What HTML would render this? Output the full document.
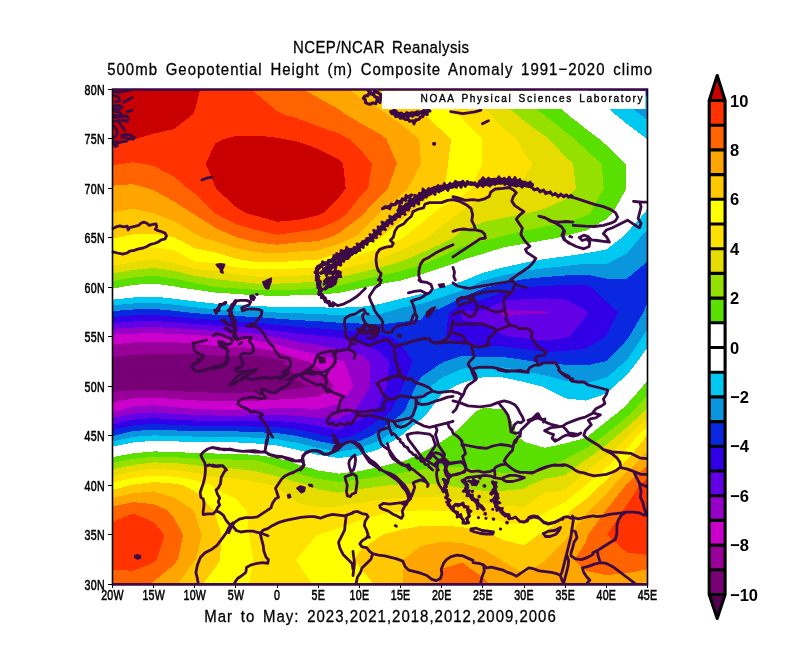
<!DOCTYPE html>
<html><head><meta charset="utf-8"><title>NCEP/NCAR Reanalysis</title>
<style>
html,body{margin:0;padding:0;background:#fff}
svg{display:block}
text{font-family:"Liberation Sans",sans-serif;fill:#000}
.ax{font-size:14.4px;letter-spacing:0.3px;stroke:#000;stroke-width:0.55px}
.cb{font-size:17.4px;font-weight:bold}
.ti{font-size:17.4px;word-spacing:3px;stroke:#000;stroke-width:0.3px}
.wm{font-size:11.8px;word-spacing:2px;stroke:#000;stroke-width:0.4px}
</style></head>
<body>
<svg width="796" height="666" viewBox="0 0 796 666">
<rect width="796" height="666" fill="#fff"/>
<g shape-rendering="crispEdges">
<rect x="112.5" y="89.5" width="535.0" height="494.9" fill="#550055"/>
<path fill="#770077" d="M112.5 89.5L133.1 89.5L153.7 89.5L174.2 89.5L194.8 89.5L215.4 89.5L236 89.5L256.5 89.5L277.1 89.5L297.7 89.5L318.3 89.5L338.8 89.5L359.4 89.5L380 89.5L400.6 89.5L421.2 89.5L441.7 89.5L462.3 89.5L482.9 89.5L503.5 89.5L524 89.5L544.6 89.5L565.2 89.5L585.8 89.5L606.3 89.5L626.9 89.5L647.5 89.5L647.5 114.2L647.5 139L647.5 163.7L647.5 188.5L647.5 213.2L647.5 238L647.5 262.7L647.5 287.5L647.5 312.2L647.5 336.9L647.5 361.7L647.5 386.4L647.5 411.2L647.5 435.9L647.5 460.7L647.5 485.4L647.5 510.2L647.5 534.9L647.5 559.7L647.5 584.4L626.9 584.4L606.3 584.4L585.8 584.4L565.2 584.4L544.6 584.4L524 584.4L503.5 584.4L482.9 584.4L462.3 584.4L441.7 584.4L421.2 584.4L400.6 584.4L380 584.4L359.4 584.4L338.8 584.4L318.3 584.4L297.7 584.4L277.1 584.4L256.5 584.4L236 584.4L215.4 584.4L194.8 584.4L174.2 584.4L153.7 584.4L133.1 584.4L112.5 584.4L112.5 559.7L112.5 534.9L112.5 510.2L112.5 485.4L112.5 460.7L112.5 435.9L112.5 411.2L112.5 386.4L112.5 361.7L112.5 336.9L112.5 312.2L112.5 287.5L112.5 262.7L112.5 238L112.5 213.2L112.5 188.5L112.5 163.7L112.5 139L112.5 114.2Z"/>
<path fill="#990099" d="M112.5 89.5L133.1 89.5L153.7 89.5L174.2 89.5L194.8 89.5L215.4 89.5L236 89.5L256.5 89.5L277.1 89.5L297.7 89.5L318.3 89.5L338.8 89.5L359.4 89.5L380 89.5L400.6 89.5L421.2 89.5L441.7 89.5L462.3 89.5L482.9 89.5L503.5 89.5L524 89.5L544.6 89.5L565.2 89.5L585.8 89.5L606.3 89.5L626.9 89.5L647.5 89.5L647.5 114.2L647.5 139L647.5 163.7L647.5 188.5L647.5 213.2L647.5 238L647.5 262.7L647.5 287.5L647.5 312.2L647.5 336.9L647.5 361.7L647.5 386.4L647.5 411.2L647.5 435.9L647.5 460.7L647.5 485.4L647.5 510.2L647.5 534.9L647.5 559.7L647.5 584.4L626.9 584.4L606.3 584.4L585.8 584.4L565.2 584.4L544.6 584.4L524 584.4L503.5 584.4L482.9 584.4L462.3 584.4L441.7 584.4L421.2 584.4L400.6 584.4L380 584.4L359.4 584.4L338.8 584.4L318.3 584.4L297.7 584.4L277.1 584.4L256.5 584.4L236 584.4L215.4 584.4L194.8 584.4L174.2 584.4L153.7 584.4L133.1 584.4L112.5 584.4L112.5 559.7L112.5 534.9L112.5 510.2L112.5 485.4L112.5 460.7L112.5 435.9L112.5 411.2L112.5 391.9L133.1 390.3L153.7 389.9L174.2 391L194.8 392L215.4 392.7L236 392.6L256.5 392.4L277.1 391.2L297.7 388.7L308.3 386.4L297.7 380L284.1 361.7L277.1 359.2L256.5 355.4L236 356.1L215.4 355.5L194.8 354.1L174.2 353.5L153.7 353.6L133.1 354.8L112.5 357.2L112.5 336.9L112.5 312.2L112.5 287.5L112.5 262.7L112.5 238L112.5 213.2L112.5 188.5L112.5 163.7L112.5 139L112.5 114.2Z"/>
<path fill="#cc00cc" d="M112.5 89.5L133.1 89.5L153.7 89.5L174.2 89.5L194.8 89.5L215.4 89.5L236 89.5L256.5 89.5L277.1 89.5L297.7 89.5L318.3 89.5L338.8 89.5L359.4 89.5L380 89.5L400.6 89.5L421.2 89.5L441.7 89.5L462.3 89.5L482.9 89.5L503.5 89.5L524 89.5L544.6 89.5L565.2 89.5L585.8 89.5L606.3 89.5L626.9 89.5L647.5 89.5L647.5 114.2L647.5 139L647.5 163.7L647.5 188.5L647.5 213.2L647.5 238L647.5 262.7L647.5 287.5L647.5 312.2L647.5 336.9L647.5 361.7L647.5 386.4L647.5 411.2L647.5 435.9L647.5 460.7L647.5 485.4L647.5 510.2L647.5 534.9L647.5 559.7L647.5 584.4L626.9 584.4L606.3 584.4L585.8 584.4L565.2 584.4L544.6 584.4L524 584.4L503.5 584.4L482.9 584.4L462.3 584.4L441.7 584.4L421.2 584.4L400.6 584.4L380 584.4L359.4 584.4L338.8 584.4L318.3 584.4L297.7 584.4L277.1 584.4L256.5 584.4L236 584.4L215.4 584.4L194.8 584.4L174.2 584.4L153.7 584.4L133.1 584.4L112.5 584.4L112.5 559.7L112.5 534.9L112.5 510.2L112.5 485.4L112.5 460.7L112.5 435.9L112.5 411.2L112.5 402.3L133.1 398.5L153.7 397.5L174.2 399L194.8 400.4L215.4 401.2L236 401.2L256.5 400.7L277.1 399.6L297.7 398.4L318.3 396.3L334.7 386.4L318.3 367.8L309.2 361.7L297.7 358.9L277.1 351.8L256.5 347.9L236 347.2L215.4 346L194.8 343.8L174.2 342.1L153.7 341.5L133.1 342.4L112.5 344.7L112.5 336.9L112.5 312.2L112.5 287.5L112.5 262.7L112.5 238L112.5 213.2L112.5 188.5L112.5 163.7L112.5 139L112.5 114.2Z"/>
<path fill="#9600c8" d="M112.5 89.5L133.1 89.5L153.7 89.5L174.2 89.5L194.8 89.5L215.4 89.5L236 89.5L256.5 89.5L277.1 89.5L297.7 89.5L318.3 89.5L338.8 89.5L359.4 89.5L380 89.5L400.6 89.5L421.2 89.5L441.7 89.5L462.3 89.5L482.9 89.5L503.5 89.5L524 89.5L544.6 89.5L565.2 89.5L585.8 89.5L606.3 89.5L626.9 89.5L647.5 89.5L647.5 114.2L647.5 139L647.5 163.7L647.5 188.5L647.5 213.2L647.5 238L647.5 262.7L647.5 287.5L647.5 312.2L647.5 336.9L647.5 361.7L647.5 386.4L647.5 411.2L647.5 435.9L647.5 460.7L647.5 485.4L647.5 510.2L647.5 534.9L647.5 559.7L647.5 584.4L626.9 584.4L606.3 584.4L585.8 584.4L565.2 584.4L544.6 584.4L524 584.4L503.5 584.4L482.9 584.4L462.3 584.4L441.7 584.4L421.2 584.4L400.6 584.4L380 584.4L359.4 584.4L338.8 584.4L318.3 584.4L297.7 584.4L277.1 584.4L256.5 584.4L236 584.4L215.4 584.4L194.8 584.4L174.2 584.4L153.7 584.4L133.1 584.4L112.5 584.4L112.5 559.7L112.5 534.9L112.5 510.2L112.5 485.4L112.5 460.7L112.5 435.9L112.5 412.1L116.8 411.2L133.1 406.6L153.7 405.2L174.2 407.1L194.8 408.9L215.4 409.7L236 409.7L256.5 409.1L277.1 408L297.7 408.2L318.3 408.9L338.8 404.3L353.3 386.4L344.3 361.7L338.8 360L318.3 354.5L297.7 350.2L277.1 344.5L256.5 340.3L236 338.2L220.7 336.9L215.4 336.7L194.8 335.1L174.2 333.8L153.7 333.2L133.1 333.6L112.5 334.7L112.5 312.2L112.5 287.5L112.5 262.7L112.5 238L112.5 213.2L112.5 188.5L112.5 163.7L112.5 139L112.5 114.2Z"/>
<path fill="#6400e6" d="M112.5 89.5L133.1 89.5L153.7 89.5L174.2 89.5L194.8 89.5L215.4 89.5L236 89.5L256.5 89.5L277.1 89.5L297.7 89.5L318.3 89.5L338.8 89.5L359.4 89.5L380 89.5L400.6 89.5L421.2 89.5L441.7 89.5L462.3 89.5L482.9 89.5L503.5 89.5L524 89.5L544.6 89.5L565.2 89.5L585.8 89.5L606.3 89.5L626.9 89.5L647.5 89.5L647.5 114.2L647.5 139L647.5 163.7L647.5 188.5L647.5 213.2L647.5 238L647.5 262.7L647.5 287.5L647.5 312.2L647.5 336.9L647.5 361.7L647.5 386.4L647.5 411.2L647.5 435.9L647.5 460.7L647.5 485.4L647.5 510.2L647.5 534.9L647.5 559.7L647.5 584.4L626.9 584.4L606.3 584.4L585.8 584.4L565.2 584.4L544.6 584.4L524 584.4L503.5 584.4L482.9 584.4L462.3 584.4L441.7 584.4L421.2 584.4L400.6 584.4L380 584.4L359.4 584.4L338.8 584.4L318.3 584.4L297.7 584.4L277.1 584.4L256.5 584.4L236 584.4L215.4 584.4L194.8 584.4L174.2 584.4L153.7 584.4L133.1 584.4L112.5 584.4L112.5 559.7L112.5 534.9L112.5 510.2L112.5 485.4L112.5 460.7L112.5 435.9L112.5 418.1L133.1 413.8L153.7 412.4L174.2 413.9L194.8 415.1L215.4 415.5L236 415.6L256.5 415.4L277.1 414.9L297.7 415.8L318.3 417.8L338.8 418.8L353.6 411.2L359.4 404L370.1 386.4L370 361.7L359.4 354L338.8 349L318.3 344.9L297.7 341.6L277.1 337.2L275.9 336.9L256.5 333.8L236 332.3L215.4 331.2L194.8 329.6L174.2 328.1L153.7 327.1L133.1 327.6L112.5 328.8L112.5 312.2L112.5 287.5L112.5 262.7L112.5 238L112.5 213.2L112.5 188.5L112.5 163.7L112.5 139L112.5 114.2ZM503.5 310L498.9 312.2L503.5 316.7L524 314.1L544.6 314.3L549.3 312.2L544.6 311.4L524 311.3Z"/>
<path fill="#3200e6" d="M112.5 89.5L133.1 89.5L153.7 89.5L174.2 89.5L194.8 89.5L215.4 89.5L236 89.5L256.5 89.5L277.1 89.5L297.7 89.5L318.3 89.5L338.8 89.5L359.4 89.5L380 89.5L400.6 89.5L421.2 89.5L441.7 89.5L462.3 89.5L482.9 89.5L503.5 89.5L524 89.5L544.6 89.5L565.2 89.5L585.8 89.5L606.3 89.5L626.9 89.5L647.5 89.5L647.5 114.2L647.5 139L647.5 163.7L647.5 188.5L647.5 213.2L647.5 238L647.5 262.7L647.5 287.5L647.5 312.2L647.5 336.9L647.5 361.7L647.5 386.4L647.5 411.2L647.5 435.9L647.5 460.7L647.5 485.4L647.5 510.2L647.5 534.9L647.5 559.7L647.5 584.4L626.9 584.4L606.3 584.4L585.8 584.4L565.2 584.4L544.6 584.4L524 584.4L503.5 584.4L482.9 584.4L462.3 584.4L441.7 584.4L421.2 584.4L400.6 584.4L380 584.4L359.4 584.4L338.8 584.4L318.3 584.4L297.7 584.4L277.1 584.4L256.5 584.4L236 584.4L215.4 584.4L194.8 584.4L174.2 584.4L153.7 584.4L133.1 584.4L112.5 584.4L112.5 559.7L112.5 534.9L112.5 510.2L112.5 485.4L112.5 460.7L112.5 435.9L112.5 424.2L133.1 419.6L153.7 418.2L174.2 419.4L194.8 420.5L215.4 420.8L236 420.8L256.5 421L277.1 421L297.7 422.6L318.3 425.9L338.8 429.9L359.4 420.2L375.1 411.2L380 402.1L386.5 386.4L389.4 361.7L380 352.5L359.4 340.5L338.8 338L331.8 336.9L318.3 335.7L297.7 333.8L277.1 331L256.5 328.2L236 326.9L215.4 325.7L194.8 324.1L174.2 322.3L153.7 321L133.1 321.5L112.5 322.9L112.5 312.2L112.5 287.5L112.5 262.7L112.5 238L112.5 213.2L112.5 188.5L112.5 163.7L112.5 139L112.5 114.2ZM462.3 311.2L460.6 312.2L462.3 320L482.9 323L503.5 335.1L512.8 336.9L524 338.3L544.6 340.7L565.2 337.9L569.2 337L585.8 316.8L587.6 312.2L585.8 310.3L565.2 299.4L544.6 298.4L524 299.2L503.5 301L482.9 310.7Z"/>
<path fill="#0a28e0" d="M112.5 89.5L133.1 89.5L153.7 89.5L174.2 89.5L194.8 89.5L215.4 89.5L236 89.5L256.5 89.5L277.1 89.5L297.7 89.5L318.3 89.5L338.8 89.5L359.4 89.5L380 89.5L400.6 89.5L421.2 89.5L441.7 89.5L462.3 89.5L482.9 89.5L503.5 89.5L524 89.5L544.6 89.5L565.2 89.5L585.8 89.5L606.3 89.5L626.9 89.5L647.5 89.5L647.5 114.2L647.5 139L647.5 163.7L647.5 188.5L647.5 213.2L647.5 238L647.5 262.7L647.5 287.5L647.5 312.2L647.5 336.9L647.5 361.7L647.5 386.4L647.5 411.2L647.5 435.9L647.5 460.7L647.5 485.4L647.5 510.2L647.5 534.9L647.5 559.7L647.5 584.4L626.9 584.4L606.3 584.4L585.8 584.4L565.2 584.4L544.6 584.4L524 584.4L503.5 584.4L482.9 584.4L462.3 584.4L441.7 584.4L421.2 584.4L400.6 584.4L380 584.4L359.4 584.4L338.8 584.4L318.3 584.4L297.7 584.4L277.1 584.4L256.5 584.4L236 584.4L215.4 584.4L194.8 584.4L174.2 584.4L153.7 584.4L133.1 584.4L112.5 584.4L112.5 559.7L112.5 534.9L112.5 510.2L112.5 485.4L112.5 460.7L112.5 435.9L112.5 430.2L133.1 425.4L153.7 423.9L174.2 424.9L194.8 425.8L215.4 426.1L236 426.1L256.5 426.6L277.1 427L297.7 429.4L318.3 433.9L325.5 435.9L338.8 438.9L351.6 435.9L359.4 432.5L380 419.6L391.2 411.2L400.6 391.6L402.8 386.4L412.7 361.7L400.6 343.7L391.8 336.9L380 334.6L359.4 331.2L338.8 330.1L318.3 328.4L297.7 327L277.1 324.9L256.5 322.6L236 321.5L215.4 320.2L194.8 318.6L174.2 316.6L153.7 315L133.1 315.5L112.5 317L112.5 312.2L112.5 287.5L112.5 262.7L112.5 238L112.5 213.2L112.5 188.5L112.5 163.7L112.5 139L112.5 114.2ZM524 287.2L522.9 287.5L503.5 292L482.9 299.6L462.3 304.3L448.7 312.2L445.8 336.9L462.3 344.6L482.9 345.9L503.5 346.4L524 349.1L544.6 352.1L565.2 351L585.8 348.7L605.4 336.9L606.3 334.6L618.4 312.2L606.3 301.5L592.5 287.5L585.8 285.3L565.2 284.9L544.6 286Z"/>
<path fill="#0a96dc" d="M112.5 89.5L133.1 89.5L153.7 89.5L174.2 89.5L194.8 89.5L215.4 89.5L236 89.5L256.5 89.5L277.1 89.5L297.7 89.5L318.3 89.5L338.8 89.5L359.4 89.5L380 89.5L400.6 89.5L421.2 89.5L441.7 89.5L462.3 89.5L482.9 89.5L503.5 89.5L524 89.5L544.6 89.5L565.2 89.5L585.8 89.5L606.3 89.5L626.9 89.5L639.4 89.5L647.5 96.4L647.5 114.2L647.5 139L647.5 163.7L647.5 188.5L647.5 213.2L647.5 238L647.5 261L646 262.7L626.9 278.5L606.3 278.6L585.8 274.5L565.2 275.5L544.6 277.1L524 279.1L503.5 283.5L486.4 287.5L482.9 288.6L462.3 297.3L441.7 307.9L426.8 312.2L421.2 319.5L400.6 322L380 324.4L359.4 323.5L338.8 322.7L318.3 321.2L297.7 320.1L277.1 318.7L256.5 317L236 316.1L215.4 314.8L194.8 313.1L186.5 312.2L174.2 310.8L153.7 308.9L133.1 309.5L112.5 311.1L112.5 287.5L112.5 262.7L112.5 238L112.5 213.2L112.5 188.5L112.5 163.7L112.5 139L112.5 114.2ZM643.5 312.2L647.5 302.7L647.5 312.2L647.5 336.9L647.5 361.7L647.5 386.4L647.5 411.2L647.5 435.9L647.5 460.7L647.5 485.4L647.5 510.2L647.5 534.9L647.5 559.7L647.5 584.4L626.9 584.4L606.3 584.4L585.8 584.4L565.2 584.4L544.6 584.4L524 584.4L503.5 584.4L482.9 584.4L462.3 584.4L441.7 584.4L421.2 584.4L400.6 584.4L380 584.4L359.4 584.4L338.8 584.4L318.3 584.4L297.7 584.4L277.1 584.4L256.5 584.4L236 584.4L215.4 584.4L194.8 584.4L174.2 584.4L153.7 584.4L133.1 584.4L112.5 584.4L112.5 559.7L112.5 534.9L112.5 510.2L112.5 485.4L112.5 460.7L112.5 436.2L113.7 435.9L133.1 431.1L153.7 429.6L174.2 430.4L194.8 431.2L215.4 431.4L236 431.4L256.5 432.2L277.1 433L296.6 435.9L297.7 436.1L318.3 441.1L338.8 445.3L359.4 441.1L371.5 435.9L380 430.4L400.6 414.9L404.5 411.2L415.6 386.4L421.2 376.8L441.7 363L444.9 361.7L462.3 355.9L482.9 356.8L503.5 357L524 360L534.2 361.7L544.6 363.6L565.2 364.6L585.8 365.5L604 361.7L606.3 361L626.9 340.1L629 336.9Z"/>
<path fill="#00c8f0" d="M112.5 89.5L133.1 89.5L153.7 89.5L174.2 89.5L194.8 89.5L215.4 89.5L236 89.5L256.5 89.5L277.1 89.5L297.7 89.5L318.3 89.5L338.8 89.5L359.4 89.5L380 89.5L400.6 89.5L421.2 89.5L441.7 89.5L462.3 89.5L482.9 89.5L503.5 89.5L524 89.5L544.6 89.5L565.2 89.5L585.8 89.5L606.3 89.5L611.8 89.5L626.9 103.2L639.6 114.2L647.5 120L647.5 139L647.5 163.7L647.5 188.5L647.5 213.2L647.5 229.7L639.9 238L626.9 253.4L609.3 262.7L606.3 263.8L585.8 263.6L565.2 266.2L544.6 268.1L524 271L503.5 275.4L482.9 280.5L468.9 287.5L462.3 290.4L441.7 297.3L421.2 303.9L400.6 308.1L386.1 312.2L380 314.2L359.4 315.7L338.8 315.2L318.3 314L297.7 313.3L277.1 312.6L270.8 312.2L256.5 311.4L236 310.6L215.4 309.3L194.8 307.3L174.2 304.7L153.7 302.7L133.1 303.5L112.5 305.4L112.5 287.5L112.5 262.7L112.5 238L112.5 213.2L112.5 188.5L112.5 163.7L112.5 139L112.5 114.2ZM642.5 336.9L647.5 329.2L647.5 336.9L647.5 361.7L647.5 386.4L647.5 411.2L647.5 435.9L647.5 460.7L647.5 485.4L647.5 510.2L647.5 534.9L647.5 559.7L647.5 584.4L626.9 584.4L606.3 584.4L585.8 584.4L565.2 584.4L544.6 584.4L524 584.4L503.5 584.4L482.9 584.4L462.3 584.4L441.7 584.4L421.2 584.4L400.6 584.4L380 584.4L359.4 584.4L338.8 584.4L318.3 584.4L297.7 584.4L277.1 584.4L256.5 584.4L236 584.4L215.4 584.4L194.8 584.4L174.2 584.4L153.7 584.4L133.1 584.4L112.5 584.4L112.5 559.7L112.5 534.9L112.5 510.2L112.5 485.4L112.5 460.7L112.5 441.5L133.1 436.9L146.5 435.9L153.7 435.4L173.1 435.9L174.2 436L194.8 436.6L215.4 436.7L236 436.7L256.5 437.8L277.1 439.2L297.7 442.9L318.3 448L338.8 451.7L359.4 448.3L380 440.2L386.9 435.9L400.6 425.5L416 411.2L421.2 400.2L431.1 386.4L441.7 377.7L462.3 368.6L482.9 367.2L503.5 367.4L524 371L544.6 375.4L565.2 380.7L585.8 383.4L606.3 377.6L625.2 361.7L626.9 360Z"/>
<path fill="#ffffff" d="M112.5 89.5L133.1 89.5L153.7 89.5L174.2 89.5L194.8 89.5L215.4 89.5L236 89.5L256.5 89.5L277.1 89.5L297.7 89.5L318.3 89.5L338.8 89.5L359.4 89.5L380 89.5L400.6 89.5L421.2 89.5L441.7 89.5L462.3 89.5L482.9 89.5L503.5 89.5L524 89.5L544.6 89.5L565.2 89.5L585.8 89.5L587 89.5L606.3 106.2L615 114.2L626.9 123.9L646.9 139L647.5 139.6L647.5 163.7L647.5 188.5L647.5 208.2L644.5 213.2L626.9 232.6L621.2 238L606.3 249.6L585.8 253.3L565.2 256.4L544.6 259L525.2 262.7L524 262.9L503.5 267.4L482.9 272.8L462.3 281.4L441.7 286.8L439.9 287.5L421.2 294.1L400.6 298.9L380 304L359.4 307.1L338.8 307.7L318.3 307.4L297.7 307.3L277.1 306.9L256.5 306.1L236 305L215.4 303.7L194.8 301.4L174.2 298.7L153.7 296.6L133.1 297.5L112.5 299.7L112.5 287.5L112.5 262.7L112.5 238L112.5 213.2L112.5 188.5L112.5 163.7L112.5 139L112.5 114.2ZM637.3 361.7L647.5 347.1L647.5 361.7L647.5 386.4L647.5 411.2L647.5 435.9L647.5 460.7L647.5 485.4L647.5 510.2L647.5 534.9L647.5 559.7L647.5 584.4L626.9 584.4L606.3 584.4L585.8 584.4L565.2 584.4L544.6 584.4L524 584.4L503.5 584.4L482.9 584.4L462.3 584.4L441.7 584.4L421.2 584.4L400.6 584.4L380 584.4L359.4 584.4L338.8 584.4L318.3 584.4L297.7 584.4L277.1 584.4L256.5 584.4L236 584.4L215.4 584.4L194.8 584.4L174.2 584.4L153.7 584.4L133.1 584.4L112.5 584.4L112.5 559.7L112.5 534.9L112.5 510.2L112.5 485.4L112.5 460.7L112.5 446.7L133.1 442.4L153.7 440.8L174.2 441.3L194.8 442.1L215.4 442.3L236 442.4L256.5 443.5L277.1 445.5L297.7 449.8L318.3 455L338.8 458.1L359.4 455.4L380 448.8L400.6 436.2L400.9 435.9L421.2 419.1L428.9 411.2L441.7 394.1L454.4 386.4L462.3 382.9L482.9 377.2L503.5 377.5L524 382L541.7 386.4L544.6 387.6L565.2 398.3L585.8 400.6L606.3 393.5L613.9 386.4L626.9 374.9Z"/>
<path fill="#5ae000" d="M112.5 89.5L133.1 89.5L153.7 89.5L174.2 89.5L194.8 89.5L215.4 89.5L236 89.5L256.5 89.5L277.1 89.5L297.7 89.5L318.3 89.5L338.8 89.5L359.4 89.5L380 89.5L400.6 89.5L421.2 89.5L441.7 89.5L462.3 89.5L482.9 89.5L503.5 89.5L524 89.5L534.7 89.5L544.6 96.4L565.2 112.3L567.3 114.2L585.8 128.8L599.4 139L606.3 145.2L625.7 163.7L626.3 188.5L612.6 213.2L606.3 219.2L585.8 230.6L565.2 235.9L556.6 238L544.6 240.1L524 243.7L503.5 247.4L482.9 253.8L462.3 259.9L456.3 262.7L441.7 267.6L421.2 274.6L400.6 280.5L380 284.2L364 287.5L359.4 288.5L338.8 293L318.3 294.6L297.7 295.4L277.1 295.7L256.5 295.4L236 293.9L215.4 292.6L194.8 289.6L180.2 287.5L174.2 286.3L153.7 283.5L133.1 284.9L119.1 287.5L112.5 288.4L112.5 287.5L112.5 262.7L112.5 238L112.5 213.2L112.5 188.5L112.5 163.7L112.5 139L112.5 114.2ZM642.8 386.4L647.5 380.4L647.5 386.4L647.5 411.2L647.5 435.9L647.5 460.7L647.5 485.4L647.5 510.2L647.5 534.9L647.5 559.7L647.5 584.4L626.9 584.4L606.3 584.4L585.8 584.4L565.2 584.4L544.6 584.4L524 584.4L503.5 584.4L482.9 584.4L462.3 584.4L441.7 584.4L421.2 584.4L400.6 584.4L380 584.4L359.4 584.4L338.8 584.4L318.3 584.4L297.7 584.4L277.1 584.4L256.5 584.4L236 584.4L215.4 584.4L194.8 584.4L174.2 584.4L153.7 584.4L133.1 584.4L112.5 584.4L112.5 559.7L112.5 534.9L112.5 510.2L112.5 485.4L112.5 460.7L112.5 457.2L133.1 453.3L153.7 451.4L174.2 451.9L194.8 453.1L215.4 453.5L236 453.9L256.5 454.9L277.1 458.2L287.4 460.7L297.7 464.3L318.3 470.5L338.8 473.6L359.4 471.2L380 466.7L400.6 461.8L405.1 460.7L421.2 453.2L441.7 441.7L450.4 435.9L462.3 425.5L476.7 411.2L482.9 407.9L503.5 409.3L507.3 411.2L517.7 435.9L524 441.8L544.6 447.8L565.2 443.5L585.8 437.8L588.4 435.9L606.3 421.5L619.7 411.2L626.9 404.4Z"/>
<path fill="#96e000" d="M112.5 89.5L133.1 89.5L153.7 89.5L174.2 89.5L194.8 89.5L215.4 89.5L236 89.5L256.5 89.5L277.1 89.5L297.7 89.5L318.3 89.5L338.8 89.5L359.4 89.5L380 89.5L400.6 89.5L421.2 89.5L441.7 89.5L462.3 89.5L482.9 89.5L503.5 89.5L509.9 89.5L524 100.8L543.3 114.2L544.6 115.3L565.2 131.5L574.7 139L585.8 149.7L601.7 163.7L603.7 188.5L590.3 213.2L585.8 215.8L565.2 222.8L544.6 226.6L524 231L503.5 235.7L496.4 238L482.9 241L462.3 246.6L441.7 256.4L427.6 262.7L421.2 264.9L400.6 271.1L380 275.9L359.4 280.5L338.8 285.6L325 287.5L318.3 288.2L297.7 289.5L277.1 290L256.5 290L236 288.3L221.7 287.5L215.4 286.9L194.8 283L174.2 278.5L153.7 275.7L133.1 277.4L112.5 281.1L112.5 262.7L112.5 238L112.5 213.2L112.5 188.5L112.5 163.7L112.5 139L112.5 114.2ZM633.3 411.2L647.5 394.9L647.5 411.2L647.5 435.9L647.5 460.7L647.5 485.4L647.5 510.2L647.5 534.9L647.5 559.7L647.5 584.4L626.9 584.4L606.3 584.4L585.8 584.4L565.2 584.4L544.6 584.4L524 584.4L503.5 584.4L482.9 584.4L462.3 584.4L441.7 584.4L421.2 584.4L400.6 584.4L380 584.4L359.4 584.4L338.8 584.4L318.3 584.4L297.7 584.4L277.1 584.4L256.5 584.4L236 584.4L215.4 584.4L194.8 584.4L174.2 584.4L153.7 584.4L133.1 584.4L112.5 584.4L112.5 559.7L112.5 534.9L112.5 510.2L112.5 485.4L112.5 462.9L122.8 460.7L133.1 458.8L153.7 456.7L174.2 457.2L194.8 458.5L215.4 459.2L236 459.6L256.5 460.5L257.4 460.7L277.1 466.5L297.7 473.4L318.3 478.9L338.8 481.8L359.4 479.4L380 476.4L400.6 473L421.2 469.5L441.7 466.4L462.3 466.8L482.9 470.4L503.5 472.9L524 472.8L544.6 468.2L562.6 460.7L565.2 459.1L585.8 448.8L603.8 435.9L606.3 433.9L626.9 417Z"/>
<path fill="#e6dc00" d="M112.5 89.5L133.1 89.5L153.7 89.5L174.2 89.5L194.8 89.5L215.4 89.5L236 89.5L256.5 89.5L277.1 89.5L297.7 89.5L318.3 89.5L338.8 89.5L359.4 89.5L380 89.5L400.6 89.5L421.2 89.5L441.7 89.5L462.3 89.5L482.9 89.5L488.1 89.5L503.5 104.4L516.4 114.2L524 120.9L544.6 135.8L548.8 139L565.2 156.5L573.1 163.7L575.9 188.5L565.2 199.4L544.6 208.8L528.8 213.2L524 213.7L503.5 217.8L482.9 222.2L462.3 230.8L453.1 238L441.7 243.6L421.2 253.1L400.6 261.6L397.6 262.7L380 267.6L359.4 272.7L338.8 277.8L318.3 281.3L297.7 282.8L277.1 283.6L256.5 283.7L236 281.4L215.4 278.9L194.8 276L174.2 270.8L153.7 268L133.1 269.9L112.5 273.5L112.5 262.7L112.5 238L112.5 213.2L112.5 188.5L112.5 163.7L112.5 139L112.5 114.2ZM644.8 411.2L647.5 408.1L647.5 411.2L647.5 435.9L647.5 460.7L647.5 485.4L647.5 510.2L647.5 534.9L647.5 559.7L647.5 584.4L626.9 584.4L606.3 584.4L585.8 584.4L565.2 584.4L544.6 584.4L524 584.4L503.5 584.4L482.9 584.4L462.3 584.4L441.7 584.4L421.2 584.4L400.6 584.4L380 584.4L359.4 584.4L338.8 584.4L318.3 584.4L297.7 584.4L277.1 584.4L256.5 584.4L236 584.4L215.4 584.4L194.8 584.4L174.2 584.4L153.7 584.4L133.1 584.4L112.5 584.4L112.5 559.7L112.5 534.9L112.5 510.2L112.5 485.4L112.5 469.4L133.1 465L153.7 462.4L174.2 463L194.8 465.3L215.4 467.7L236 468.7L256.5 471.4L277.1 476.3L297.7 482.5L309.6 485.4L318.3 489.5L338.8 492.8L359.4 489.2L380 486.4L388.8 485.4L400.6 484.3L421.2 483.4L441.7 483.8L447.7 485.4L462.3 488.2L482.9 490.6L503.5 490.6L524 489.1L529.2 485.4L544.6 478.8L565.2 475.2L584 460.7L585.8 459.8L606.3 445L616.8 435.9L626.9 427.4Z"/>
<path fill="#ffe100" d="M112.5 89.5L133.1 89.5L153.7 89.5L174.2 89.5L194.8 89.5L215.4 89.5L236 89.5L256.5 89.5L277.1 89.5L297.7 89.5L318.3 89.5L338.8 89.5L359.4 89.5L380 89.5L400.6 89.5L421.2 89.5L441.7 89.5L462.1 89.5L462.3 89.7L482.9 107.2L490.4 114.2L503.5 128.1L516.6 139L524 152.3L532.2 163.7L524 178.1L503.5 182.6L496.6 188.5L482.9 197.2L462.3 211.3L458.7 213.2L441.7 226.1L426.8 238L421.2 240.6L400.6 250.3L380 258.5L367.5 262.7L359.4 264.8L338.8 269.9L318.3 274.3L297.7 275.6L277.1 276.5L256.5 276.5L236 274.3L215.4 270.9L194.8 269.1L174.2 263L172.1 262.7L153.7 258.9L133.1 262L130.7 262.7L112.5 265.9L112.5 262.7L112.5 238L112.5 213.2L112.5 188.5L112.5 163.7L112.5 139L112.5 114.2ZM628.6 435.9L647.5 417.8L647.5 435.9L647.5 460.7L647.5 485.4L647.5 510.2L647.5 534.9L647.5 559.7L647.5 584.4L626.9 584.4L606.3 584.4L585.8 584.4L565.2 584.4L544.6 584.4L524 584.4L503.5 584.4L482.9 584.4L462.3 584.4L441.7 584.4L421.2 584.4L400.6 584.4L380 584.4L359.4 584.4L338.8 584.4L318.3 584.4L297.7 584.4L277.1 584.4L256.5 584.4L236 584.4L215.4 584.4L194.8 584.4L174.2 584.4L153.7 584.4L133.1 584.4L112.5 584.4L112.5 559.7L112.5 534.9L112.5 510.2L112.5 485.4L112.5 476L133.1 471.5L153.7 468.9L174.2 469.9L194.8 472.7L215.4 477.3L236 478.5L256.5 482.3L273.6 485.4L277.1 487.5L297.7 503.1L318.3 507.5L338.8 506.4L359.4 503.1L380 499.7L400.6 497.6L421.2 496.8L441.7 497.5L462.3 500.2L482.9 503L503.5 505.7L524 506.8L544.6 493L565.2 490L570.7 485.4L585.8 472.4L599.6 460.7L606.3 455.8L626.9 438Z"/>
<path fill="#ffff00" d="M112.5 89.5L133.1 89.5L153.7 89.5L174.2 89.5L194.8 89.5L215.4 89.5L236 89.5L256.5 89.5L277.1 89.5L297.7 89.5L318.3 89.5L338.8 89.5L359.4 89.5L380 89.5L400.6 89.5L421.2 89.5L431.8 89.5L441.7 99.2L457.8 114.2L462.3 118.4L482.5 139L482.4 163.7L471 188.5L462.3 196.2L441.7 206.7L433.3 213.2L421.2 223.6L402.9 238L400.6 239.1L380 248.2L359.4 255.2L338.8 262L336.8 262.7L318.3 267.4L297.7 268.4L277.1 269.5L256.5 269.4L236 267.3L215.4 262.9L210.1 262.7L194.8 261.6L174.2 250.3L153.7 247.2L133.1 249.1L112.5 253.7L112.5 238L112.5 213.2L112.5 188.5L112.5 163.7L112.5 139L112.5 114.2ZM637.6 435.9L647.5 426.4L647.5 435.9L647.5 460.7L647.5 485.4L647.5 510.2L647.5 534.9L647.5 559.7L647.5 584.4L626.9 584.4L606.3 584.4L585.8 584.4L565.2 584.4L544.6 584.4L524 584.4L503.5 584.4L482.9 584.4L462.3 584.4L441.7 584.4L421.2 584.4L400.6 584.4L380 584.4L359.4 584.4L338.8 584.4L318.3 584.4L312.1 584.4L297.7 562.3L295.4 559.7L297.7 557.7L317 534.9L318.3 534.6L338.8 528.3L359.4 520.4L380 514.5L400.6 511.5L421.2 510.2L441.7 510.9L462.3 512.7L482.9 516.6L503.5 522.1L524 524.5L544.6 513L548.5 510.2L565.2 502.2L585.5 485.4L585.8 485.2L606.3 467.7L613.4 460.7L626.9 449ZM112.5 485.4L112.5 482.5L133.1 478L153.7 475.4L174.2 476.7L194.8 480.2L211.6 485.4L215.4 488.9L236 498.7L246.5 510.2L249.1 534.9L253.4 559.7L248.8 584.4L236 584.4L215.4 584.4L194.8 584.4L174.2 584.4L153.7 584.4L133.1 584.4L112.5 584.4L112.5 559.7L112.5 534.9L112.5 510.2Z"/>
<path fill="#ffc800" d="M112.5 89.5L133.1 89.5L153.7 89.5L174.2 89.5L194.8 89.5L215.4 89.5L236 89.5L256.5 89.5L277.1 89.5L297.7 89.5L318.3 89.5L338.8 89.5L359.4 89.5L380 89.5L394.1 89.5L400.6 94.1L421.2 110.7L424.8 114.2L441.7 130.6L451.1 139L448.1 163.7L444.7 188.5L441.7 189.9L421.2 202.9L410.6 213.2L400.6 221L380 238L380 238L359.4 245L338.8 252.9L318.3 259.6L297.7 260.8L277.1 262.3L256.5 262L236 258.8L215.4 252.2L194.8 248.3L175.5 238L174.2 237.2L153.7 233.6L133.1 234.3L115.5 238L112.5 238.3L112.5 238L112.5 213.2L112.5 188.5L112.5 163.7L112.5 139L112.5 114.2ZM646.6 435.9L647.5 435.1L647.5 435.9L647.5 460.7L647.5 485.4L647.5 510.2L647.5 534.9L647.5 559.7L647.5 584.4L626.9 584.4L606.3 584.4L585.8 584.4L565.2 584.4L544.6 584.4L524 584.4L503.5 584.4L482.9 584.4L462.3 584.4L441.7 584.4L421.2 584.4L400.6 584.4L380 584.4L373.8 584.4L359.4 566.8L354.7 559.7L359.4 551.4L380 536.7L382.4 534.9L400.6 529.8L421.2 526L441.7 525.5L462.3 527.2L482.9 531.8L492.3 534.9L503.5 540.1L524 545.4L538.3 534.9L544.6 531.5L565.2 517.8L571.6 510.2L585.8 499.3L600.3 485.4L606.3 480.3L626.1 460.7L626.9 460ZM129.2 485.4L133.1 484.6L153.7 482L174.2 483.6L184 485.4L194.8 491.4L214.2 510.2L215.4 514.4L221.4 534.9L220 559.7L215.4 567.5L202.5 584.4L194.8 584.4L174.2 584.4L153.7 584.4L133.1 584.4L112.5 584.4L112.5 559.7L112.5 534.9L112.5 510.2L112.5 490Z"/>
<path fill="#ffa500" d="M112.5 89.5L133.1 89.5L153.7 89.5L174.2 89.5L194.8 89.5L215.4 89.5L236 89.5L256.5 89.5L277.1 89.5L297.7 89.5L318.3 89.5L338.8 89.5L348.9 89.5L359.4 97.3L380 109.2L386.9 114.2L400.6 124L419.1 139L421 163.7L407.9 188.5L400.6 195.1L380 212.8L379.6 213.2L359.4 233.2L352.7 238L338.8 243.8L318.3 250.4L297.7 251.6L277.1 253.5L256.5 252.2L236 248.1L215.4 241.3L203.5 238L194.8 233.6L174.2 221.3L153.7 213.5L152.2 213.2L133.1 208.5L112.5 212.4L112.5 188.5L112.5 163.7L112.5 139L112.5 114.2ZM639.1 460.7L647.5 450.4L647.5 460.7L647.5 485.4L647.5 510.2L647.5 534.9L647.5 559.7L647.5 581.2L637.2 584.4L626.9 584.4L606.3 584.4L585.8 584.4L565.2 584.4L544.6 584.4L524 584.4L503.5 584.4L482.9 584.4L462.3 584.4L441.7 584.4L421.2 584.4L403.4 584.4L403.6 559.7L421.2 546L441.7 541.6L462.3 543.1L482.9 549.1L501.2 559.7L503.5 562L524 573.6L544.6 561.5L545.4 559.7L565.2 540.4L569.4 534.9L585.8 515.3L589.6 510.2L606.3 494.5L613.5 485.4L626.9 472ZM112.5 510.2L112.5 498.2L133.1 493.2L153.7 491.4L174.2 497.5L193.2 510.2L194.8 513.7L201.8 534.9L195.5 559.7L194.8 560.5L177.3 584.4L174.2 584.4L153.7 584.4L133.1 584.4L112.5 584.4L112.5 559.7L112.5 534.9Z"/>
<path fill="#ff6400" d="M112.5 89.5L133.1 89.5L153.7 89.5L174.2 89.5L194.8 89.5L215.4 89.5L236 89.5L256.5 89.5L277.1 89.5L297.7 89.5L303.6 89.5L318.3 97.9L338.8 109.3L345.4 114.2L359.4 122.5L380 134.1L386.3 139L396.9 163.7L387.8 188.5L380 196.3L364 213.2L359.4 217.7L338.8 233.1L328.3 238L318.3 241.1L297.7 242.4L277.1 244.7L256.5 242.4L238.6 238L236 237.1L215.4 228L194.8 214.5L192.4 213.2L174.2 201.6L153.7 190.3L148 188.5L133.1 184.1L112.5 185.7L112.5 163.7L112.5 139L112.5 114.2ZM625.5 485.4L626.9 484L647.5 465.3L647.5 485.4L647.5 510.2L647.5 534.9L647.5 559.7L647.5 569.3L626.9 573.1L606.3 575.2L585.8 570.6L574.2 559.7L585.8 542.6L588 534.9L606.1 510.2L606.3 510ZM112.5 510.2L112.5 506.5L133.1 502.1L153.7 504.2L167.4 510.2L174.2 518.2L183.2 534.9L177.9 559.7L174.2 564.5L153.7 581.7L148.6 584.4L133.1 584.4L112.5 584.4L112.5 559.7L112.5 534.9ZM438.5 584.4L441.7 568.9L462.3 562.6L482.9 577.5L490 584.4L482.9 584.4L462.3 584.4L441.7 584.4Z"/>
<path fill="#ff3200" d="M112.5 89.5L133.1 89.5L153.7 89.5L174.2 89.5L194.8 89.5L215.4 89.5L236 89.5L252 89.5L256.5 93.9L277.1 111.2L283 114.2L297.7 118.5L318.3 126.2L338.8 133.6L349.1 139L359.4 148.4L371.8 163.7L368.2 188.5L359.4 197.2L347.2 213.2L338.8 219.8L318.3 229L297.7 231.9L277.1 234.8L256.5 230.1L236 224.1L215.4 213.5L215 213.2L194.8 193.5L187.7 188.5L174.2 176.6L153.7 166L142.1 163.7L133.1 162.1L123.4 163.7L112.5 165.4L112.5 163.7L112.5 139L112.5 114.2ZM639.5 485.4L647.5 478.2L647.5 485.4L647.5 510.2L647.5 534.9L647.5 554.9L626.9 552.6L606.9 534.9L622.8 510.2L626.9 504.8ZM112.5 534.9L112.5 521.8L133.1 513.5L153.7 522L164.5 534.9L156.8 559.7L153.7 562.4L133.1 570.8L112.5 569.7L112.5 559.7Z"/>
<path fill="#c80000" d="M112.5 89.5L133.1 89.5L153.7 89.5L174.2 89.5L194.8 89.5L200 89.5L194.8 110.6L193.1 114.2L174.2 128.9L153.7 133.7L135.2 139L133.1 139.3L112.5 146.3L112.5 139L112.5 114.2ZM223.6 139L236 135.9L256.5 135.5L277.1 137.7L283.8 139L297.7 141.6L318.3 148.9L338.8 159.4L343.1 163.7L345.7 188.5L338.8 197.7L323 213.2L318.3 215.3L297.7 220.1L277.1 221.7L256.5 215.8L246 213.2L236 207.1L215.8 188.5L215.4 186.9L205.7 163.7L215.4 143.1ZM646 510.2L647.5 507.3L647.5 510.2L647.5 515.2Z"/>
</g>
<g fill="none" stroke="#3c0a46" stroke-width="2.8" stroke-linejoin="round" stroke-linecap="round">
<path d="M201.9 180L206.5 178.2L211.7 177.1M113.3 91.3L118.5 92.4L123.8 91.3L130.1 90.3M123.8 102.3L128 99.7L132.2 97.6M114.3 95.5L118.5 96.6L119.6 100.8L115.4 101.8M114.3 106L119.6 105.5L122.2 107.6L118.5 109.2L114.3 108.6M126.9 111.8L132.2 110.2M114.3 111.3L119.6 112.3L121.7 114.4L118.5 116L114.3 115.5M114.3 117.6L120.6 116.5L126.9 116L128.5 118.6L126.9 121.3L122.7 120.2L118.5 120.7L114.3 121.3M119.6 122.8L121.7 126L123.8 129.1L124.8 130.2M113.8 126L116.4 129.1L117.5 133.3L115.4 136.5L113.8 137.5M121.7 135.4L125.9 134.4L130.1 134.9L134.3 137.5L133.2 139.1L129 138.6L124.8 137.5L121.7 137.5L121.7 135.4M114.3 141.7L118.5 142.3L123.8 141.7L126.9 141.2M113.8 143.8L117.5 145.4L115.4 146.5M113 228.4L116 226.9L119.8 225.9L123.6 226.9L127.3 226.2L128.1 230L129.6 227.7L132.6 226.9L135.6 226.2L138.6 225.4L140.9 223.2L143.9 222.1L146.9 223.2L149.2 225.4L153 224.4L156 223.9L156.7 226.9L155.2 229.2L158.2 230.7L161.2 231.5L165 233L166.5 236L165 239L161.2 239.8L158.2 242L154.5 243.5L150.7 244.3L146.9 246.5L143.2 248L138.6 248.8L134.1 250.3L129.6 251.1L127.3 253L122.8 254.1L117.5 253L113 251.8M353.3 250.5L350.1 251.4L346.5 247.3L346.1 251.8L341 250.5L342.2 256.7L336.6 253.5L338 259.3L333.7 257.3L333.1 261.4L328.6 260.1L327 264.5L322.5 261.8L321.7 266.7L317.7 266.1L319.5 267.9L314.9 272.3L319 276.7L316.1 280.2L320.6 281.7L318.5 287.2L321.1 289.9M349.4 256L347.6 258.7L343.1 256.7L343.8 261.5L339.5 259.7L340.3 265.2L334.5 261.8L332.8 266.2L329.2 264.9L328 268.5L323.3 269L324 268.8L326.4 275.6L329.3 270.3L333.1 274.6L335.8 271.1L338.5 271.5L340.9 276.7L336.6 275.5L335.7 279.9L332.9 276.3L329.3 279.1L323.9 284.3L328.1 280.6L330 284.8L331.8 279.6L334.3 280L335.1 284L331.3 282.4L330.7 286.6L327.4 285L325.2 288.5M333 259.8L334 255.4L339 257.8L340 253.6L344.8 257.7L344.9 251.6L349.1 254.5L350.4 249.5L353.4 252.5L354.1 247.5L360 250.5L357 243.8L363.4 247.6L362.5 241.6L367.2 244.6L366.8 238.3L373.2 241.1L369.9 234.4L376.6 237.7L373.7 230.2L380.5 234L377.9 226.7L385.4 229.7L381.9 222L387.8 225.8L387.5 220.7L392.2 223.8L389.7 216.2L395.3 219.6L395.2 215L399.9 216.8L397.8 210.4L405.1 214.5L402.4 207.7L408.6 210.1L406.3 203.8L411.7 205.4L410.4 199.2L416 201.3L414.6 195.2L420.3 199.3L419.5 193.1L423 195.3L422.9 189L428.5 194.4L428.7 188.5L432.4 192.1L433.6 187.9L436.8 190.7L438.1 185.5L441.5 190.6L444.6 184.7L447.9 190.5L450.1 183.1L452.7 186.1M382.4 208.6L385.1 206.5L389.8 208.8L391.4 204L395 204.8L397 200.8L401.7 202.8L402.1 198.6L405.7 200.6L406 195.4L409.5 198L411.4 194.9M453 199.6L447.6 200.4L441.5 202.6L435.5 202.6L429.5 202.6L425 204.1L423.5 207.9L417.4 209.4L412.9 211.7L411.4 216.2L406.9 220L403.9 223.7L397.8 226.7L394.8 231.3L393.3 237.3L390.3 240.3L393.3 243.3L391.8 246.3L385.8 247.1L379.7 249.4L376.7 253.9L376 259.9L376.7 265.9L378.2 270.5L381.2 273.5L379.7 278L378.2 280M453 244.8L447.6 247.1L441.5 250.1L435.5 253.1L429.5 256.9L423.5 259.9L420.4 264.4L418.9 270.5L418.9 276.5L420.4 280M333 264.4L336 267.4L334.5 272L339 275L336 279.5M453.2 184.8L455.5 181.2L458.8 184.3L462.9 181.2L465.3 186.4L467.2 181.4L470.9 184.7L474.8 182.7L477.4 187.1L479.2 181.6L483.1 186.6L486.6 181.3L489.9 186L491.8 180.7L495.1 184.4L497.5 181.8L500.5 183.3L503.3 180.7L504.9 184.5L508.4 181.9L509.9 185.9L513.8 182L516.1 186L518.7 182.1L522 187.3L525.8 183.8L528.6 186.3M528.6 186L531.4 186.9L534.3 190.1L537.6 188.5L540 192L543.6 189.9L545.7 193.8L550.3 191.7L552.7 195.2L555.3 193.3L558.2 196.8L560.9 194.1L563.8 196.9L566.3 194.8L568.6 197.3L570.9 195.2L572.7 196.9M453 196.6L459 198.1L465.1 200.4L472.6 199.6L478.6 200.4L484.7 198.8L489.2 196.6L490.7 192.1L495.2 189L502.8 188.3L508.8 187.5L513.3 189.8L516.3 192.8M453 199.6L459 201.1L466.6 204.9L471.1 208.6L472.6 214.7L471.8 220.7L474.1 225.2L475.6 229.8M516.3 192.8L513.3 196.6L511.8 201.1L514.8 205.6L519.3 208.6L523.9 211.7L519.3 215.4L516.3 219.2L519.3 223.7L522.4 228.2L520.8 234.3L523.9 239.6L526.9 243.3L529.9 246.3L525.4 249.4L526.9 252.4L531.4 255.4L535.9 258.4L532.9 262.9L528.4 267.4L523.9 270.5L519.3 273.5L513.3 278L510.3 280M453 231.3L457.5 229.8L463.6 229L469.6 229.8L475.6 229.8L481.6 231.3L484.7 234.3L485.4 238L480.1 238.8L475.6 241.8L471.1 244.8L466.6 247.8L462 250.9L457.5 253.9L453 256.9M453 267.4L454.5 272L453.8 276.5L455.3 280M538.9 216.2L545 217.7L549.5 220.7L555.5 223L561.5 226.7L564.6 231.3L563.1 235.8L565.3 240.3L569.1 243.3L573 244.8M538.9 216.2L546.5 218.4L552.5 221.5L558.5 222.2L566.1 221.5L573 222.2M569.8 236.5L571.3 237M573.2 225.4L585.3 226.2L594.3 226.5L603.4 225.4L610.9 223.2L615.4 220.9L617.7 217.1L615.4 212.6L610.9 209.6L603.4 206.6L594.3 204.3L585.3 201.3L576.2 198.3L567.2 196M563.4 231.5L561.9 235.2L564.2 239.8L570.2 243.5L576.2 246.5L583.8 248.8L589.1 246.5L589.8 242L586.8 239L582.3 240.5L579.3 237.5L583.8 235.2L588.3 236.7L591.3 239.8L597.4 240.5L603.4 241.3L609.4 242L606.4 236.7L603.4 233.7L606.4 230L612.4 227.7L618.5 224.7L624.5 221.7L627.5 220.2L632 223.2L636.5 226.2L639.6 227.7L641.1 223.2L638.1 218.6L639.6 212.6L641.1 206.6L639.6 202.1L633.5 201.3L642.6 202.1L646.8 202.1M570.7 236.7L571.7 237M263.5 282.3L265.8 287.5L268 288.3L270.3 281.5M256.4 294.3L257.3 294.5M235.6 301.1L240.1 300.4L246.2 300.4L250.7 301.9L249.2 304.9L244.7 306.4L241.6 307.9L242.4 310.9L246.2 309.4L252.2 308.9L258.2 309.4L262 310.9L261.2 315.4L258.2 319.2L255.2 323L250.7 324.5L246.9 326L252.2 326L256.7 326.7L261.2 330.5L264.3 334.3L266.5 338.8L269.5 343.3L273.3 346.3L274.8 350.1L277.8 353.9L279.3 356.9L283.9 357.6L288.4 358.4L290.6 361.4L290.6 365.9L288.4 368.9L285.4 370.5L282.4 372L285.4 373.5L283.9 376.5L280.8 378L279.3 380M235.3 301.2L235 303.9L231.7 304.7L232.3 308.6L228.1 310.4L231.8 312.3L228.9 315.7L233.1 316.4L231.1 319.4L235.7 320.7L231.8 324.5L235.5 325.4L233.3 327.2L236.1 331L233.3 336.6L237.1 339.9M216.4 312.9L214.6 310.1L219 310.5L219.6 304.4L224.2 304.1L225.4 302.4M221.9 320.4L224.4 319.9L225 323.5L229.2 325.1M225 328.3L227.8 328.5L228.5 330.9L232.4 332.4M239.4 344.1L241.6 342.6M237.1 339.6L241.6 338L247.7 337.3L251.4 337.3L249.2 341.1L252.2 344.8L253.7 348.6L253 352.4L249.2 353.9L243.2 353.1L240.1 355.4L241.6 359.9L243.2 364.4L240.1 367.4L235.6 368.2L235.6 370.5L240.1 371.2L246.2 372L252.2 370.5L256.7 368.9L253.7 372L249.2 374.2L244.7 376.5L241.6 380M213 335.8L216 333.5L220.5 334.3L225.1 336.5L229.6 338L232.6 340.3L231.1 343.3L228.1 344.8L225.1 343.3L222 341.8L219 343.3L220.5 346.3L225.1 347.8L228.1 350.9L227.3 355.4L228.1 359.9L226.6 363.7L223.6 365.9L219 367.4L213 368.9M318.6 280.3L319.5 283.7L317.7 287.5L322.3 289.3L318.8 294.6L322.2 294.7L321.2 297.6L325.4 298L325.1 301.8L329.4 301.3L329.6 305.9L333 305.5M333 350.9L327.6 351.6L321.5 353.1L317 355.4L315.5 359.9L314 364.4L311 367.4L306.5 370.5L301.9 373.5L295.9 376.5L289.9 378.7L285.4 380M192.9 343L197.4 342.3L203.5 340.8L206.5 340M218.5 341.5L223.1 344.5L226.1 347.5L227.6 352.1L226.8 356.6L226.1 361.1L224.6 364.1L220 365.6L215.5 366.4L211 367.9L206.5 369.4L201.9 370.9L197.4 371.7L193.7 369.4L191.4 366.4L193.7 364.1L197.4 362.6L200.4 360.4L197.4 359.6L201.9 358.8L203.5 355.1L200.4 354.3L197.4 352.8L194.4 350.6L193.7 346.8L192.9 343M286.9 370L288.4 373L285.4 375.3L280.8 376.8L276.3 377.5L270.3 378.3L264.3 377.5L258.2 378.3L252.2 379.8L247.7 378.3L243.2 377.5L238.6 380.6L234.1 383.6L229.6 385.1L232.6 382.1L235.6 378.3L238.6 375.3L243.2 373L247.7 371.5L250.7 370M333 392.6L329.1 389.6L324.6 388.1L321.5 384.3L317 385.1L312.5 382.8L308 380.6L303.5 378.3L300.4 375.3L297.4 374.5L292.9 376L291.4 380.6L288.4 384.3L283.9 387.3L279.3 389.6L276.3 392.6L271.8 392.6L267.3 391.1L264.3 388.8L261.2 389.6L262.8 394.1L265.8 397.9L261.2 398.6L256.7 397.9L252.2 397.1L247.7 397.9L243.2 398.6L238.6 400.9L237.9 403.9L240.9 406.2L244.7 407.7L249.2 410L250.7 412.2L255.2 411.5L259.7 413L262.8 414.5L259.7 416.7L262 419.8L265 422.8L267.3 426.5L268 430.3L270.3 433.3L272.6 437.1M268 430.3L268 436.3L267.3 440.9L265.8 446.9L265 451.4M255.7 391.6L256.4 392M259.4 393.5L260.2 394M300.4 375.3L306.5 372.7L312.5 371.8L318.5 372.7L324.6 371.5L327.6 370M213 447.6L219 449.1L225.1 449.1L231.1 449.9L237.1 450.7L243.2 451.4L249.2 451.4L255.2 452.2L261.2 452.2L265 451.4L268.8 454.4L273.3 455.9L277.8 457.4L282.4 456.7L286.9 458.9L291.4 460.5L295.9 461.2L300.4 460.5L303.5 462L302.7 457.4L305 453.7L309.5 451.4L314 450.7L318.5 451.4L323.1 453.7L327.6 454.4L333 452.2M303.5 462L303.5 466.5L300.4 470M333 413L329.1 416.7L326.8 421.3L329.1 424.3L333 422.8M213 465L217.5 466.5L222 465.7L225.1 468L226.6 470M333 302.6L337.5 305.6L343.6 304.1L349.6 301.1L355.6 297.3L360.1 293.6L363.2 290.6L365.4 288.3M381.2 280L379.7 284.5L375.2 287.5L372.2 292.1L369.2 296.6L370.7 301.1L373 305.6L374.5 310.2L377.5 314.7L381.2 319.2L382.8 322.2L382 326.7L383.5 331.3L387.3 332.8L391.8 332L393.3 329L396.3 326.7L400.8 325.2L405.4 324.5L409.9 323.7L411.4 320.7L412.9 316.2L415.2 313.2L414.4 308.6L412.9 304.1L411.4 301.1L415.2 299.6L420.4 298.1L425 295.1L429.5 292.8L432.5 289L431 284.5L426.5 282.3L420.4 281.5L418.9 280M408.4 292.8L414.4 291.3L420.4 290.6L426.5 293.6L423.5 296.6M415.6 313.9L417.1 316.9L415.6 321.5L413.7 323.7M351.1 338.8L355.6 337.3L357.9 333.5L360.1 329.8L363.2 326.7L365.4 323L363.2 319.2L362.4 315.4L365.4 312.4L363.9 309.4L360.1 310.9L355.6 313.9L349.6 315.4L345.1 318.4L344.3 323.7L345.8 328.2L345.1 332.8L346.6 337.3L349.6 340.3L351.1 343.3L349.6 346.3L348.1 349.4L343.6 350.1L339 350.9L334.5 352.4L333 353.9M367.7 338L373.7 338M367.4 313.9L368.3 314.1M351.1 338.8L355.6 340.3L360.1 341.8L364.7 344.1L369.2 345.6L373.7 344.1L378.2 341.8L382.8 340.3L387.3 339.6L390.3 342.6L394.8 346.3L400.8 344.8L406.9 343.3L412.9 341.1L418.9 339.6L425 338.5L429.5 338.8L431 341.8L435.5 342.6L441.5 341.8L446.1 339.6L449.1 335.8L450.6 331.3L452.1 325.2L453 320.7M394.8 346.3L394.1 350.9L395.6 355.4L394.8 359.9L397.1 364.4L397.8 368.9L399.3 373.5L402.4 376.5L403.9 380M351.1 343.3L355.6 344.1M333 353.9L336 358.4L334.5 362.9L333 365.9M348.1 349.4L352.6 350.9L355.6 353.9L354.1 358.4M431 341.8L437 343.3L443.1 342.6L453 341.8M387.3 380L393.3 376.5L399.3 375L405.4 378L408.4 380M453 283L457.5 286L463.6 287.5L469.6 288.3L477.1 286.8L486.2 285.3L495.2 283.8L504.3 282.3L513.3 280.8L514.8 283.8L519.3 286L526.1 287.5M459 299.6L465.1 297.3L472.6 295.1L478.6 293.6L484.7 292.1L490.7 291.3L498.2 290.9L504.3 291.3L507.3 292.1L510.6 293.4L513.3 289L514.8 284.5M510.3 293.6L505.8 296.6L503.5 301.1L504.3 305.6L505 310.2M457.5 299.6L462 297.3L468.1 298.1L472.6 299.6L469.6 302.6L463.6 303.4L459 305.6L457.5 302.6L457.5 299.6M472.6 295.1L474.1 299.6L475.6 302.6L477.1 307.1L475.6 311.7L474.1 315.4L469.6 316.9L465.1 313.9L462 310.9L457.5 312.4L453 315.4M477.1 307.1L483.2 306.4L490.7 310.2L496.7 312.4L504.3 310.2L506.5 314.7L505.8 319.2L508.8 323.7L510.3 325.2M453 323.7L459 324.5L465.1 323.7L472.6 324.5L481.6 323.7L487.7 326L493.7 328.2L496.7 330.5L504.3 327.5L510.3 325.2M496 329.8L493.7 334.3L489.2 337.3L487.7 341.8L489.2 344.8L483.2 346.3L477.1 347.1L471.1 344.8L468.1 343.3M453 332.8L459 334.3L463.6 336.5L465.1 340.3L468.1 343.3M453 342.6L460.5 342.6L468.1 343.3M471.1 344.8L472.6 350.9L474.1 356.9L469.6 361.4L468.1 364.4L471.1 368.9L472.6 373.5L475.6 380M510.3 325.2L516.3 326.7L519.3 329L525.4 328.2L529.9 329.8L532.1 332.8L531.4 337.3L534.4 341.8L537.4 346.3L541.9 349.4L546.5 352.4L543.5 355.4L537.4 356.1L535.2 358.4L537.4 362.9L538.9 365.2M472.6 368.9L478.6 367.4L484.7 367.1L492.2 367.4L499.7 368.9L505.8 370.5L513.3 371.2L520.8 370.5L526.9 372L529.9 367.4L534.4 365.2L538.9 365.2L543.5 362.9L549.5 362.6L555.5 362.9L558.5 367.4L560 372L564.6 374.2L569.1 376.5L570.6 380M571.7 381.2L577.8 382L583.8 382L588.3 385L594.3 386.5L600.4 388L607.9 390M376.7 383.6L381.2 380.6L387.3 378.3L393.3 376L399.3 376L402.4 377.5L406.9 379L411.4 378.3L414.4 382.1L418.9 383.6L423.5 385.1L429.5 388.1L432.5 391.1L429.5 392.6L426.5 394.1L423.5 396.4L418.9 397.1L414.4 397.9L409.9 397.1L405.4 396.4L400.8 395.6L396.3 397.9L391.8 399.4L387.3 398.6L384.3 395.6L381.2 391.1L379.7 387.3L376.7 383.6M399.3 370L400.1 373L399.3 376M432.5 391.1L438.5 392.6L444.6 391.9L453 391.1M415.9 398.6L417.4 403.2L421.9 404.7L428 403.9L434 401.7L441.5 399.4L447.6 397.1L453 396.4M387.3 398.6L384.3 402.4L382.8 406.2L384.3 409.2L378.2 410L372.2 410.7L366.2 411.5L360.1 412.2L355.6 411.5L357.1 415.2L363.2 416L369.2 415.2L375.2 416.7L381.2 418.2L387.3 419.8L393.3 421.3L399.3 420.5L405.4 419L409.9 418.2L412.9 415.2L414.4 410.7L415.9 406.2L415.9 398.6M333 413.7L337.5 412.2L342 410.7L348.1 410L355.6 411.5M357.1 415.2L354.1 419.8L351.1 424.3L348.1 422.8L345.1 425L340.5 423.5L336 425.8L333 424.3M333 392.6L337.5 394.1L343.6 396.4L340.5 400.2L339 406.2L337.5 412.2M333 434.8L336 439.4L339 443.9L334.5 446.9L333 451.4M333 452.2L337.5 449.9L342 445.4L346.6 442.4L351.1 441.6L355.6 443.9L360.1 448.4L363.2 452.9L366.2 457.4L369.2 462L373.7 465L378.2 468L379.7 470M391.8 434.8L390.3 430.3L388.8 427.3L384.3 428.8L379.7 430.3L378.2 434.8L379.7 439.4L381.2 443.9L384.3 446.9L388.8 449.9L390.3 454.4L393.3 458.9L397.8 462L402.4 465L406.9 466.5L409.9 470M387.3 419.8L388.8 424.3L389.5 428.8M393.3 421.3L396.3 425.8L400.8 427.3L405.4 425.8L409.9 422.8L412.9 419.8M393.4 433.5L395.5 435.1L397.6 438.4L400.1 439.4L400.4 441.9L402.8 443.3L404.5 446.3L407.7 447.5L409.2 451L412.1 452.9L413.1 454.5L415.9 455.2L416.5 458L420 458L420.9 461.1L423.9 462L424.9 464.3L428 464.6L428.9 466.7L432.8 470M406.9 434.8L411.4 433.3L417.4 432.6L423.5 433.3L429.5 434.1L432.5 436.3L434 440.9L435.5 445.4L432.5 449.9L429.5 454.4L426.5 458.9L423.5 462M406.9 434.8L408.4 439.4L412.9 445.4L417.4 451.4L421.9 457.4L425 460.5M412.9 419.8L417.4 422.8L423.5 425.8L429.5 427.3L435.5 425.8L441.5 424.3L447.6 422.8L453 421.3M435.5 425.8L437 430.3L435.5 434.8L437 439.4L438.5 445.4L441.5 449.9L444.6 454.4L443.1 458.9L438.5 460.5L435.5 463.5L437 468L438.5 470M447.6 422.8L449.1 427.3L452.1 430.3L453 433.3M429.5 454.4L434 455.9L438.5 460.5M472.6 370L475.6 374.5L476.4 379L472.6 382.1L468.1 385.1L465.1 389.6L463.6 394.1L460.5 398.6L459 402.4M453 391.9L457.5 392.6L462 394.9L463.6 394.1M453 400.9L459 402.4L468.1 405.9L480.1 406.9L490.7 405.4L498.2 402.4M498.2 402.4L501.2 406.2L505 410.7L508 415.2L509.5 421.3L510.3 427.3L511 431.8M498.2 402.4L504.3 400.9L510.3 402.4L514.8 404.7L517.8 408.4L520.1 413L522.4 416.7L523.9 420.5L520.8 422.8L517.8 422L514.8 424.3L513.3 428L511 431.8M511 431.8L514.8 433.3L519.3 432.6L520.1 436.3L517.8 437.1L515.6 442.4M520.1 436.3L520.8 430.3L523.9 427.3L526.9 424.3L529.9 421.3L534.4 419L537.4 418.2L538.2 413.7L539.7 416.7L541.9 419.8L545 419L543.5 422M453 412.2L456 409.2L459 402.4M453 433.3L457.5 436.3L462 440.9L462 445.4M498.2 370L505.8 371.5L513.3 370.8L520.8 371.5L528.4 372.3M558.5 370L563.1 374.5L567.6 377.5L573 379M528 420.2L532.5 418.6L537 414.1L539.3 418.6L543.1 420.2L546.1 422.4L552.1 424.7L558.2 426.2M544.6 430.7L550.6 427.7L558.2 426.9L562.7 426.2L565.7 429.2L568.7 433L573.2 433.7L577.8 434.5L580.8 433L577.8 435.2L573.2 436L568.7 435.2L565.7 435.2L562.7 436.7L558.2 439.8L555.1 441.3L552.1 438.2L553.6 434.5L549.1 433L544.6 430.7M562.7 426.2L567.2 423.2L573.2 420.9L579.3 418.6L585.3 417.1L591.3 414.1L594.3 412.6M607.9 390L606.4 394.5L603.4 399L604.9 403.6L600.4 406.6L595.8 408.8L592.8 412.6L597.4 414.1L600.4 414.9L595.8 417.9L591.3 418.6L588.3 420.2L591.3 424.7L588.3 427.7L585.3 430.7L583.8 435.2L586.8 438.2L592.8 442L598.9 445.8L603.4 449.6L607.9 451.8L612.4 454.1L616.9 457.8L620 462.4L620.7 466.9L616.9 469.9L612.4 472.2L606.4 474.4L600.4 475.2L594.3 475.9L588.3 474.4L583.8 472.9L579.3 472.2L574.7 469.9L571.7 467.6L567.2 465.4L564.2 464.6L558.2 465.4L552.1 465.4L546.1 466.9L540.1 469.1L534 472.2L528 472.9M603.4 449.6L612.4 451.8L621.5 452.6L630.5 453.3L639.6 457.8L646.3 458.6M620.7 467.6L627.5 469.1L633.5 471.4L636.5 477.4L639.6 483.5L646.3 486.5M633.5 471.4L641.1 474.4L646.3 474.4M266.5 440L265.7 446L265 452.1M200.9 455.1L203.2 452.1L207.7 449L212.2 447.5L218.2 448.3L224.3 449.8L230.3 449L236.3 450.6L242.4 451.3L248.4 450.9L254.4 450.6L260.4 451.8L265 452.1L269.5 454.3L275.5 455.8L281.5 456.6L287.6 458.1L293 459.6M200.9 455.1L202.4 458.8L204.7 462.6L205.4 466.4L205.4 471.7L204.7 477.7L203.2 483.7L201.6 488.2L200.1 492.8L200.9 497.3L203.2 498.8L203.9 501.8L203.9 506.3L203.2 510.9L203.2 514.6L207.7 513.9L213 513.9L216 510.9M205.4 466.4L209.2 464.9L213.7 466.4L218.2 465.6L222.8 465.6L225.8 469.4L223.5 473.2L221.2 477.7L220.5 483.7L218.2 488.2L216 489.8L217.5 494.3L219.7 498L218.2 501.8L219.7 504.8L217.5 507.8L216 510.9M216 510.9L219.7 512.4L223.5 515.4L225.8 519.9L228.8 523.7L232.6 525.2L234.8 522.2L239.3 519.1L245.4 517.6L251.4 517.6L257.4 516.9L261.9 513.9L266.5 510.9L271 507.8L272.5 503.3L275.5 498.8L278.5 497.3L277 492.8L275.5 488.2L278.5 483.7L281.5 479.2L284.6 476.2L289.1 473.9L293 472.4M293 472.9L296 470.9L300.5 468.6L304.3 464.9L302 461.1L302.8 455.8L306.6 452.1L311.1 450.6L315.6 450.3L320.1 451.3L324.7 454.3L329.2 453.6L333.7 450.6L338.2 447.5L341.2 445.3L345.8 443L350.3 441.5L354.8 442.3L359.3 444.5L362.4 449L363.9 453.6L366.9 456.6L369.9 459.6L374.4 462.6L377.4 465.6L381.9 470.2L386.5 472.4L391 473.9L395.5 476.2L398.5 479.2L401.5 482.2L404.6 485.2L407.6 489.8L409.8 494.3L410.6 498.8L407.6 501.8L406.1 504.8L404.6 502.6M293 460.4L297.5 461.1L302 461.1M338.2 447.5L336.7 443.8L333.7 440M349.5 460.4L351.8 457.3L354.8 455.1L355.6 459.6L354.8 465.6L353.3 470.2L351 471.7L349.5 467.1L348.8 463.4L349.5 460.4M345 476.9L348.8 475.4L353.3 473.9L356.3 476.2L357.1 482.2L356.3 488.2L355.6 492.8L351.8 494.3L350.3 496.5L347.3 495.8L346.5 491.3L347.3 485.2L345.8 480.7L345 476.9M379.7 505.6L383.5 503.3L389.5 504.1L395.5 503.3L401.5 502.6L405.3 501.8L404.6 506.3L402.3 510.9L403.1 515.4L401.5 518.4L397 516.1L392.5 513.9L388 510.9L383.5 509.4L380.4 507.8L379.7 505.6M395.2 525.6L396.4 526.2M383 470.7L387.5 473.7L392 476.7L396.6 479.8L399.6 482.8L402.6 487.3L405.6 490.3L407.9 494.8L408.6 499.4L405.6 502.4L402.6 503.9M408.6 499.4L411.6 496.3L413.2 491.8L414.7 487.3L413.2 482.8L416.2 481.3L420.7 479.8L425.2 481.3L428.2 484.3L427.5 486.5M387.5 443.6L389 449.6L392 454.1L395.1 458.6L399.6 462.4L405.6 465.4L408.6 464.7L410.1 467.7L414.7 470.7L419.2 474.5L423.7 478.2L426.7 482L428.2 485M426.7 460.2L429.7 462.4L434.3 465.4L437.3 467.7M429.7 458.6L432.8 454.1L435.8 452.6L440.3 454.1L443.3 457.1L441.8 460.2L438.8 461.7L437.3 464.7L437.3 467.7M437.3 467.7L436.5 473.7L437.3 479.8L438.8 484.3L441.8 488.8L443.3 491.8M438.8 461.7L443.3 462.4L445.6 466.2L444.8 470.7L446.3 475.2L448.6 478.2L447.8 482.8L444.8 485.8L443.3 491.8M443.3 457.1L446.3 460.2L449.3 463.2L455.4 462.4L461.4 461.7L464.4 464.7L465.9 469.2L464.4 472.2L458.4 473.7L452.4 475.2L448.6 478.2M522.8 521.9L527.3 521.2L528.8 517.4L533.3 515.9L537.8 516.7L540.8 519.7L543.9 522.7L548.4 524.2L554.4 522.7L558.9 520.4L563.5 517.4L568 516.7L571 518.2L572.5 515.9L573.3 520.4L572.5 525.7L571.7 530.2L571 536.3L569.5 542.3L568 548.3L566.5 554.4L565 560.4L563.5 566.4L561.9 572.4L560.4 575.5L557.4 573.9L551.4 572.4L545.4 571.7L539.3 570.9L533.3 568.7L528.8 567.9L524.3 570.9L519.7 573.9L516.7 576.2L512.2 573.9L507.7 572.4L503.2 570.2L497.1 568.7L491.1 567.2L486.6 567.9L483.6 564.9L479 563.4L473 562.6M572.5 517.4L578.5 518.9L584.6 517.4L593 515.9M571.7 530.2L575.5 531.7L577 537.8L574 542.3L572.5 548.3L571 552.8L571 555.9L575.5 558.9L581.5 559.6L587.6 557.4L593 554.4M566.5 554.4L568.7 560.4L568 566.4L566.5 572.4L563.5 583.7M560.4 575.5L561.9 580L563.5 583.7M483.6 564.9L484.3 570.9L482 577L480.5 583.7M594.3 516.2L597.4 516.7L603.4 515.9L609.4 514.4L615.4 513.6L621.5 512.9L626 512.1L633.5 512.1L639.6 512.9L644.1 515.2M639.6 485L641.1 491L640.3 497.1L642.6 501.6L644.1 507.6L646.3 515.2M626 512.1L621.5 515.2L618.5 519.7L616.9 525.7L616.9 533.2L615.4 539.3L609.4 543L603.4 546.8L597.4 550.6M592.8 552.8L597.4 550.6L598.1 555.9L599.6 560.4L600.4 562.6L606.4 563.4L612.4 566.4L618.5 570.9L624.5 575.5L630.5 580L635 583.7M600.4 562.6L594.3 564.1L588.3 566.4L582.3 567.9L583.8 572.4L586.8 577L589.8 580L586.8 583.7M353 512.1L357.5 511.4L362 513.6L366.6 514.4L368.1 516.7L365.1 521.2L364.3 525.7L366.6 530.2L368.1 534.8L366.6 537.8L362 540.8L359.8 543.8L362 546.8L366.6 547.6L369.6 551.3L372.6 553.6L378.6 555.1L384.7 555.9L390.7 557.4L396.7 558.9L402.8 561.1L405 566.4L408.8 570.2L414.8 571.7L420.8 573.2L426.9 575.5L431.4 579.2L435.9 580.7L440.4 578.5L441.9 573.9L441.2 569.4L443.5 563.4L446.5 559.6L451 556.6L457 555.1L463.1 555.9L467.6 558.1L473 560.4M372.6 553.6L371.1 558.9L366.6 563.4L362 567.9L360.5 572.4L357.5 577L356 583.7M353 551.3L354.5 563.4L353 575.5M368.5 536.7L369.4 537.3M461.1 440L462.6 444.5L470.1 446L477.7 447.5L486.7 448.3L492.8 446L500.3 444.5L507.8 445.3L513.1 446.8L512.4 450.6L509.3 453.6L506.3 457.3L504.1 461.1L506.3 464.1L510.8 467.9L515.4 470.9L519.9 472.4L525.9 472.4L531.9 473.2L536.5 470.9L542.5 468.6L548.5 466.4L554.6 464.9L563 465.6M515.4 440L513.9 443L513.1 446.8M462.6 444.5L464.1 449L465.6 453.6L462.6 456.6L464.1 461.1L465.6 465.6L466.4 469.4M443 456.6L444.5 461.1L447.5 464.1L452 463.4L456.6 462.6L461.1 461.9L465.6 465.6M447.5 464.1L446 468.6L447.5 473.2L450.5 475.4L456.6 474.7L462.6 472.4L466.4 469.4L471.6 471.7L477.7 470.9L483.7 472.4L489.7 471.7L494.3 469.4L495.8 467.1L500.3 464.9L506.3 464.1M494.3 469.4L495 474.7L494.3 477.7L498.8 478.4L503.3 479.2M503.3 477.7L509.3 475.4L515.4 475.4L521.4 476.9L524.4 477.7L518.4 480L512.4 481.5L506.3 481.5L503.3 480L503.3 477.7M492.9 482.4L496.3 482.7L494.5 486.2L495.3 489.4L491.8 492.8L495.9 490.7L496.5 493.8L498.3 498.2L492.4 500.7L499.9 502.9L494.4 503.3L496.7 504.5L496.8 510.5L502.4 508.2L500.9 512.2L503.5 512.6L505.1 516.1L509.1 514.6L509.1 518.2M509.3 518.4L512.4 518.4L515.4 516.9L519.9 521.4L524.4 522.2L528.9 518.4L533.5 516.9L539.5 518.4L544 522.2L548.5 523.7L554.6 522.2L559.1 519.9L563 519.1M443.2 479.3L445.8 480.3L444.7 483.1L446.6 486.7L443.7 489L446.7 490.2L445.9 492.4L447.9 495.6L445.4 497.5L450.2 500.5L446.5 502.1L448.9 503.3L451.2 508.8L453.9 506.3M453.2 506.5L455.9 504.1L457.9 506L463.2 503L464 507.1L468.1 506.9L467.2 510.3L471.1 511.2L468 512.8L469.7 516L466.4 518.3L468.7 522.8L465.8 523L462.9 523.1L463.5 519.9L460.9 517.5L460.8 514.4L457.1 517.1L457.7 512.4L452.9 510.7L453.4 506.3M462.6 480.6L466.1 481.8L465.8 484.4L467.7 487.7L463.3 491.4L469.4 490.7L466.9 495.8L472.4 495L472 499.6L477.9 499.9L477.1 505.6L481.8 505.9L483.7 509.1M468.9 481.1L471.6 481.6L472.2 484.6L475.4 484.6L478.2 481.5L474.3 482.6L473.4 479.5M462.6 480.7L467.1 477.7L473.2 476.9L479.2 476.2L485.2 475.4L491.2 476.2L494.3 477.7M470.9 528.9L476.2 528.2L482.2 530.5L488.2 531.2L493.5 532L492.8 534.2L486.7 534.2L480.7 533.5L474.7 532L470.9 530.5L470.9 528.9M543.3 533.5L548.5 531.2L554.6 530.5L560.6 527.4L559.1 530.5L556.1 534.2L550 536.5L545.5 536.5L543.3 533.5M232.6 525.9L236.3 530.5L240.8 532L246.9 531.2L252.9 531.2L257.4 532.3L261.9 533.5L268 535.7M232.6 525.2L230.3 528.9L228.8 532.7M260.1 533.2L263.2 530.2L267.7 528.7L272.2 525.7L278.2 522.7L285.8 520.4L293.3 518.9L300.8 517.4L308.4 516.7L314.4 516.7L320.4 518.2L326.5 515.9L332.5 514.4L338.5 515.2L344.6 515.9L353 512.9M260.1 533.2L261.6 539.3L263.2 545.3L263.9 551.3L266.2 557.4L268.4 559.6L267.7 563.4L263.2 562.6L257.1 563.4L251.1 564.9L246.6 567.2L245.8 572.4L242 575.5L237.5 578.5L234.5 583M346.1 516.7L345.3 522.7L344.6 530.2L341.5 536.3L338.5 542.3L340 548.3L343.1 554.4L347.6 558.9L352.1 563.4L353 569.4M233 522.7L229.1 527.2L226.1 533.2L221.5 539.3L217 545.3L211 549.8L205 552.8L200.4 557.4L197.4 564.9L195.9 572.4L197.4 578.5L198.2 583.7M363.4 97.9L364.8 95.9L368 95.8L369.3 92.5L372.8 94.7L374.9 90.5L377.1 92.5L381.5 94.7L380.7 97L380.3 101.2L376.7 100.1L375.8 104L372.7 102.7L370.6 104.4L368.2 103.8L365.3 102.7L365.5 99.7L363.2 98.3M368.1 90.5L370.4 91.5L370.7 94.1L373.9 94.1L374.7 96.8L377.7 97.4L377.8 101L380.1 102.5M390.6 111.8L393.1 110.8L394.7 114.8L397.4 113.5L399.4 115.7L401.5 113L404.4 115.7L406.8 112.4L409.3 113.7L411.2 112.6L414.9 113.3L417.1 111.6L420.6 113.1L423.6 110.4L426.9 111.4L430.1 111.1L427 110.4L427.4 114.6L423.1 113.1L422.9 116.7L420.3 117L419.3 119.3L415.6 119.7L414 124.1L412.6 120.5L409.5 121.4L407.9 118.3L405.4 119.6L403.1 117.6L400.2 118.4L399.2 115.2L395.6 116.7L394.9 113.5L391.8 113.8L390.6 111.6M393.6 110.2L396 110.8L397.8 113.5L400.6 113.1L402.4 115.9L405.2 115.2L408.3 117.4L409.9 114.5L412.5 116.4L414.8 114.5L418.1 115L419.4 112.9L421.9 113.4L424.4 110.9L426.9 110.9M450.7 111.6L462.8 113.7L474.9 111.9L480.9 110.1M482.4 123.7L488.4 120.7M399.2 209.2L399.7 204.9L404.9 210.3L405.5 204.7L409.6 207.8L408.8 200.7L414 206L414 200.7L418.8 204.2L417.7 197.3L422.3 199.6L421.9 194.3L426.4 197L426.3 193L430.4 194.1L430.8 190L435.1 194.4L435 188.1L439.1 192.1L439.1 186.8L443.3 189.7L444.3 183.5L447.1 188.9L448.9 184.4L451.8 187.2L453.5 184.1L456.4 187.4L457.9 183.1L461.2 187.3L462.8 183.1M321.5 273.2L323.1 270.6L326.6 272.1L327.3 267.6L330.9 269.1L332.1 265.6L335.8 267L336 262.2L340.9 265L340.2 259.6L343.8 260.6L344 255.7L348.2 258.3L348.6 253.7L351.6 254.7L352.5 251.8L356 252.8L357.5 250.3M481.2 180.7L483 177.8L486.4 181.4L488.6 178.1L491.7 182.4L493.7 179.1L496.6 182L498.9 176.7L501.1 182.3L504.3 178.2L506.8 182.8L509.2 177.1L511.9 183.1L515 177.5L516.8 183.1L519.8 179.4L521.7 184.5L524.9 182.1L526.5 185.9L530 182.1L532.1 185.1M336.3 350.2L334.8 356.2L335.6 362.2L331.8 366.7L328.8 369.8L325.8 375.8L326.5 381.8L325 387.8L328.8 390.9M306.2 372.8L312.2 374.3L318.2 372.8L324.3 375.8L325.8 380.3M325 387.8L327.3 392.4L331.8 390.9M357.8 329.3L360.4 329.8L361.3 332.5L362.8 332.5L367.1 333.2L370.7 329.3L369.9 333.7L374.1 332.7L376.8 336L375.5 331.1L378.9 327.7L374.5 329.3L372.2 325.5L369.9 327.2L367.5 324.5L364.6 326.3"/>
<path stroke-width="3.8" d="M353 250.3L347.6 249.6L343.1 252.6L338.5 256.3L332.5 260.1L326.5 263.1L320.4 265.4L316.7 268.4L317.4 272.9L316.7 277.4L318.9 282L319.7 286.5L321.2 290M349.1 256.3L344.6 258.6L338.5 262.4L332.5 265.4L326.5 267.6L323.5 272.2L329.5 272.9L335.5 272.2L340 272.6L337 276.7L332.5 278.9L328 278.2L325 281.2L329.5 282.7L335.5 281.2L332.5 285L328 286.5L325 288.7M453 184.5L459 183L465.1 184.5L471.1 183L477.1 185.3L483.2 183.8L489.2 184.5L495.2 183L502.8 182.3L510.3 183.8L516.3 185.3L522.4 184.5L528.4 186M235.6 301.1L232.6 305.6L229.6 310.2L231.1 314.7L232.6 319.2L234.1 323.7L235.6 328.2L234.1 332L235.6 335.8L237.1 339.6M318.5 280L317.8 284.5L320 289L319.3 293.6L323.1 296.6L326.1 301.1L330.6 304.1L333 305.6M492.8 482.2L495.8 486.7L492.8 491.3L497.3 494.3L494.3 498.8L497.3 501.8L495.8 506.3L500.3 509.4L503.3 513.9L507.8 515.4L509.3 518.4M462.6 480.7L467.1 485.2L465.6 489.8L468.6 494.3L473.2 498.8L476.2 501.8L480.7 506.3L483.7 509.4M321.1 272.9L333.2 266.9L345.2 257.8L357.3 250.3M480.9 181L499 179.4L517.1 181L532.1 184.9"/>
<path stroke-width="5.2" d="M333 259.9L340.5 255.4L348.1 251.6L355.6 249.4L363.2 243.3L370.7 238.8L378.2 231.3L384.3 225.2L390.3 220.7L396.3 216.2L402.4 211.7L408.4 205.6L414.4 199.6L420.4 195.1L429.5 190.6L438.5 187.5L447.6 186.8L453 186"/>
<path stroke-width="3.0" d="M382.8 208.6L388.8 206.4L394.8 204.1L400.8 201.1L406.9 197.3L411.4 195.1M216 313.2L217.5 308.6L220.5 305.6L223.6 303.4L225.8 302.6M357.4 329L363.5 333.6L369.5 330.6L375.5 335.1L378.5 329L372.5 326L365 326"/>
<path stroke-width="2.2" d="M528.4 186L534.4 189L540.4 190.6L546.5 192.1L552.5 194.3L558.5 195.1L566.1 195.8L573 196.6M222 320.7L226.6 322.2L229.6 325.2M225.1 328.2L229.6 329.8L232.6 332M443 479.2L446 483.7L444.5 488.2L447.5 492.8L446 497.3L449 500.3L447.5 504.8L450.5 507.8L453.6 506.3M453.6 506.3L458.1 504.1L462.6 504.8L467.1 507.1L470.1 510.9L468.6 515.4L467.1 521.4L465.6 523.7L462.6 519.9L461.1 515.4L458.1 516.9L456.6 513.9L453.6 510.9L453.6 506.3M468.6 480.7L473.2 483.7L476.2 485.2L477.7 482.2L473.2 479.2M363.3 98L369.3 93.5L378.4 92L381.4 98L375.4 102.6L367.8 104.1L363.3 98M367.8 90.5L375.4 96.5L379.9 102.6M390.4 111.6L399.5 114.6L411.5 113.1L420.6 111.6L429.6 110.1L420.6 117.6L414.6 122.2L405.5 119.1L396.5 116.1L390.4 111.6"/>
<path stroke-width="1.5" d="M393.3 433.3L397.8 437.8L402.4 443.9L406.9 448.4L411.4 452.9L417.4 457.4L423.5 462L429.5 466.5L432.5 470M393.5 110.1L405.5 116.1L417.6 114.6L426.6 110.7"/>
<path stroke-width="4.5" d="M399.5 209.6L414.6 202.1L429.6 193L444.7 187L462.8 183.1"/>
<path fill="#3c0a46" stroke-width="1.6" d="M216.3 264.6L220 263.9L224.6 264.2L223.8 266.9L222.3 269.9L223.1 272.9L220.8 272.2L220 268.4L217.8 266.9ZM263.9 282L267.7 279.7L271.4 278.2L270.7 282L268.4 285L266.9 288.7L264.7 286.5ZM249.9 295.8L253 295.1L255.2 297.3L253.7 300.4L250.7 299.6ZM318.5 356.9L324.6 357.6L325.3 362.2L320 362.9ZM426.5 312.4L431 308.6L435.5 307.1L433.3 310.9L429.5 315.4L427.2 317.7ZM438.5 284.5L443.8 283.8L444.6 286.8L440 287.5ZM360.9 329.8L364.7 328.2L366.9 331.3L364.7 334.3L360.9 333.5ZM369.2 326.7L373.7 325.2L378.2 326.7L379.7 331.3L377.5 335L373 335.8L369.9 332.8ZM397.8 334.3L401.6 335L400.8 337.3L397.8 336.5ZM287.6 495L289.8 494.3L290.6 497.3L288.3 498ZM296.8 488.2L300.5 486L305.1 487.5L304.3 491.3L301.3 492.8ZM308.8 484.5L311.8 484.5L312.6 486.7L309.6 486ZM479 477.4L479.9 477.1L480.8 477.5L480.8 478.5L479.9 478.9L479 478.4ZM483.4 485.3L484.5 484.9L485.5 485.5L485.4 486.6L484.5 487L483.4 486.5ZM490.2 492.7L491.5 492.2L492.9 492.8L492.8 494.3L491.5 494.9L490.2 494.2ZM490.5 500L491.5 499.6L492.6 500.1L492.5 501.2L491.5 501.7L490.5 501.1ZM498.2 507.6L499.1 507.2L500 507.7L499.9 508.7L499.1 509L498.2 508.6ZM478.3 496L479.2 495.6L480.1 496.1L480 497.1L479.2 497.4L478.3 497ZM476.9 508.1L477.7 507.8L478.4 508.2L478.4 509L477.7 509.4L476.9 509ZM484.2 513.2L485.2 512.8L486.3 513.3L486.2 514.5L485.2 514.9L484.2 514.4ZM477.7 517.2L478.4 516.9L479.2 517.3L479.1 518.1L478.4 518.4L477.7 518ZM485.2 517.9L486 517.6L486.7 518L486.6 518.8L486 519.1L485.2 518.8ZM492.6 518.6L493.5 518.2L494.4 518.7L494.3 519.7L493.5 520.1L492.6 519.6ZM492 508.9L492.8 508.6L493.5 509L493.4 509.8L492.8 510.1L492 509.7ZM471.5 490.7L472.4 490.4L473.3 490.8L473.2 491.8L472.4 492.2L471.5 491.7ZM472.7 482.2L473.9 481.8L475.1 482.4L475 483.7L473.9 484.2L472.7 483.6ZM506 522L507.1 521.6L508.1 522.1L508 523.3L507.1 523.7L506 523.1ZM499.8 528.5L500.6 528.2L501.3 528.6L501.3 529.4L500.6 529.7L499.8 529.3ZM554.4 439.5L555.3 439.1L556.2 439.5L556.1 440.5L555.3 440.9L554.4 440.5ZM134.9 555.6L137.9 554.7L140.6 556.2L140.1 558.3L137.1 558.9L134.9 557.4ZM433 143.1L434.2 142.7L435.4 143.3L435.2 144.6L434.2 145.1L433 144.5ZM307.8 370L309.9 369.1L312 370.2L311.8 372.5L309.9 373.4L307.8 372.3Z"/>
</g>
<rect x="382" y="91" width="263.5" height="18" fill="#fff"/>
<text transform="translate(420.4 101.9) scale(0.860 1)" text-anchor="start" class="wm" textLength="258.4" lengthAdjust="spacing">NOAA Physical Sciences Laboratory</text>
<path d="M108 89.5L112.5 89.5M108 138.5L112.5 138.5M108 188.5L112.5 188.5M108 237.5L112.5 237.5M108 287.5L112.5 287.5M108 336.5L112.5 336.5M108 386.5L112.5 386.5M108 435.5L112.5 435.5M108 485.5L112.5 485.5M108 534.5L112.5 534.5M108 584.5L112.5 584.5M112.5 584.4L112.5 588M153.5 584.4L153.5 588M194.5 584.4L194.5 588M235.5 584.4L235.5 588M277.5 584.4L277.5 588M318.5 584.4L318.5 588M359.5 584.4L359.5 588M400.5 584.4L400.5 588M441.5 584.4L441.5 588M482.5 584.4L482.5 588M524.5 584.4L524.5 588M565.5 584.4L565.5 588M606.5 584.4L606.5 588M647.5 584.4L647.5 588" stroke="#000" stroke-width="1" fill="none"/>
<path d="M112.5 88.5L112.5 585.4M647.5 88.5L647.5 585.4" stroke="#000" stroke-width="1.6" fill="none"/>
<path d="M112.5 89.5L647.5 89.5M112.5 584.4L647.5 584.4" stroke="#3c0a46" stroke-width="2.6" fill="none"/>
<text transform="translate(104.8 94.6) scale(0.740 1)" text-anchor="end" class="ax">80N</text>
<text transform="translate(104.8 144.1) scale(0.740 1)" text-anchor="end" class="ax">75N</text>
<text transform="translate(104.8 193.6) scale(0.740 1)" text-anchor="end" class="ax">70N</text>
<text transform="translate(104.8 243.1) scale(0.740 1)" text-anchor="end" class="ax">65N</text>
<text transform="translate(104.8 292.6) scale(0.740 1)" text-anchor="end" class="ax">60N</text>
<text transform="translate(104.8 342.1) scale(0.740 1)" text-anchor="end" class="ax">55N</text>
<text transform="translate(104.8 391.5) scale(0.740 1)" text-anchor="end" class="ax">50N</text>
<text transform="translate(104.8 441.0) scale(0.740 1)" text-anchor="end" class="ax">45N</text>
<text transform="translate(104.8 490.5) scale(0.740 1)" text-anchor="end" class="ax">40N</text>
<text transform="translate(104.8 540.0) scale(0.740 1)" text-anchor="end" class="ax">35N</text>
<text transform="translate(104.8 589.5) scale(0.740 1)" text-anchor="end" class="ax">30N</text>
<text transform="translate(112.5 600.4) scale(0.740 1)" text-anchor="middle" class="ax">20W</text>
<text transform="translate(153.7 600.4) scale(0.740 1)" text-anchor="middle" class="ax">15W</text>
<text transform="translate(194.8 600.4) scale(0.740 1)" text-anchor="middle" class="ax">10W</text>
<text transform="translate(236.0 600.4) scale(0.740 1)" text-anchor="middle" class="ax">5W</text>
<text transform="translate(277.1 600.4) scale(0.740 1)" text-anchor="middle" class="ax">0</text>
<text transform="translate(318.3 600.4) scale(0.740 1)" text-anchor="middle" class="ax">5E</text>
<text transform="translate(359.4 600.4) scale(0.740 1)" text-anchor="middle" class="ax">10E</text>
<text transform="translate(400.6 600.4) scale(0.740 1)" text-anchor="middle" class="ax">15E</text>
<text transform="translate(441.7 600.4) scale(0.740 1)" text-anchor="middle" class="ax">20E</text>
<text transform="translate(482.9 600.4) scale(0.740 1)" text-anchor="middle" class="ax">25E</text>
<text transform="translate(524.0 600.4) scale(0.740 1)" text-anchor="middle" class="ax">30E</text>
<text transform="translate(565.2 600.4) scale(0.740 1)" text-anchor="middle" class="ax">35E</text>
<text transform="translate(606.3 600.4) scale(0.740 1)" text-anchor="middle" class="ax">40E</text>
<text transform="translate(647.5 600.4) scale(0.740 1)" text-anchor="middle" class="ax">45E</text>
<rect x="709.2" y="100.50" width="15.9" height="24.70" fill="#ff3200"/>
<rect x="709.2" y="125.20" width="15.9" height="24.70" fill="#ff6400"/>
<rect x="709.2" y="149.90" width="15.9" height="24.70" fill="#ffa500"/>
<rect x="709.2" y="174.60" width="15.9" height="24.70" fill="#ffc800"/>
<rect x="709.2" y="199.30" width="15.9" height="24.70" fill="#ffff00"/>
<rect x="709.2" y="224.00" width="15.9" height="24.70" fill="#ffe100"/>
<rect x="709.2" y="248.70" width="15.9" height="24.70" fill="#e6dc00"/>
<rect x="709.2" y="273.40" width="15.9" height="24.70" fill="#96e000"/>
<rect x="709.2" y="298.10" width="15.9" height="24.70" fill="#5ae000"/>
<rect x="709.2" y="322.80" width="15.9" height="24.70" fill="#ffffff"/>
<rect x="709.2" y="347.50" width="15.9" height="24.70" fill="#ffffff"/>
<rect x="709.2" y="372.20" width="15.9" height="24.70" fill="#00c8f0"/>
<rect x="709.2" y="396.90" width="15.9" height="24.70" fill="#0a96dc"/>
<rect x="709.2" y="421.60" width="15.9" height="24.70" fill="#0a28e0"/>
<rect x="709.2" y="446.30" width="15.9" height="24.70" fill="#3200e6"/>
<rect x="709.2" y="471.00" width="15.9" height="24.70" fill="#6400e6"/>
<rect x="709.2" y="495.70" width="15.9" height="24.70" fill="#9600c8"/>
<rect x="709.2" y="520.40" width="15.9" height="24.70" fill="#cc00cc"/>
<rect x="709.2" y="545.10" width="15.9" height="24.70" fill="#990099"/>
<rect x="709.2" y="569.80" width="15.9" height="24.70" fill="#770077"/>
<path d="M709.2 100.5L717.2 75.5L725.1 100.5Z" fill="#c80000"/>
<path d="M709.2 594.5L717.2 618.5L725.1 594.5Z" fill="#550055"/>
<path d="M709.2 100.5L717.2 75.5L725.1 100.5L725.1 594.5L717.2 618.5L709.2 594.5ZM709.2 100.50L725.1 100.50M709.2 125.20L725.1 125.20M709.2 149.90L725.1 149.90M709.2 174.60L725.1 174.60M709.2 199.30L725.1 199.30M709.2 224.00L725.1 224.00M709.2 248.70L725.1 248.70M709.2 273.40L725.1 273.40M709.2 298.10L725.1 298.10M709.2 322.80L725.1 322.80M709.2 347.50L725.1 347.50M709.2 372.20L725.1 372.20M709.2 396.90L725.1 396.90M709.2 421.60L725.1 421.60M709.2 446.30L725.1 446.30M709.2 471.00L725.1 471.00M709.2 495.70L725.1 495.70M709.2 520.40L725.1 520.40M709.2 545.10L725.1 545.10M709.2 569.80L725.1 569.80M709.2 594.50L725.1 594.50" fill="none" stroke="#000" stroke-width="3.1" stroke-linejoin="round"/>
<text transform="translate(730.0 106.6) scale(0.950 1)" text-anchor="start" class="cb">10</text>
<text transform="translate(730.0 156.0) scale(0.950 1)" text-anchor="start" class="cb">8</text>
<text transform="translate(730.0 205.4) scale(0.950 1)" text-anchor="start" class="cb">6</text>
<text transform="translate(730.0 254.8) scale(0.950 1)" text-anchor="start" class="cb">4</text>
<text transform="translate(730.0 304.2) scale(0.950 1)" text-anchor="start" class="cb">2</text>
<text transform="translate(730.0 353.6) scale(0.950 1)" text-anchor="start" class="cb">0</text>
<text transform="translate(730.0 403.0) scale(0.950 1)" text-anchor="start" class="cb">−2</text>
<text transform="translate(730.0 452.4) scale(0.950 1)" text-anchor="start" class="cb">−4</text>
<text transform="translate(730.0 501.8) scale(0.950 1)" text-anchor="start" class="cb">−6</text>
<text transform="translate(730.0 551.2) scale(0.950 1)" text-anchor="start" class="cb">−8</text>
<text transform="translate(730.0 600.6) scale(0.950 1)" text-anchor="start" class="cb">−10</text>
<text transform="translate(293.0 52.6) scale(0.860 1)" text-anchor="start" class="ti" textLength="204.7" lengthAdjust="spacing">NCEP/NCAR Reanalysis</text>
<text transform="translate(107.2 75.3) scale(0.860 1)" text-anchor="start" class="ti" textLength="633.7" lengthAdjust="spacing">500mb Geopotential Height (m) Composite Anomaly 1991−2020 climo</text>
<text transform="translate(204.3 622.2) scale(0.860 1)" text-anchor="start" class="ti" textLength="408.7" lengthAdjust="spacing">Mar to May: 2023,2021,2018,2012,2009,2006</text>
</svg>
</body></html>
